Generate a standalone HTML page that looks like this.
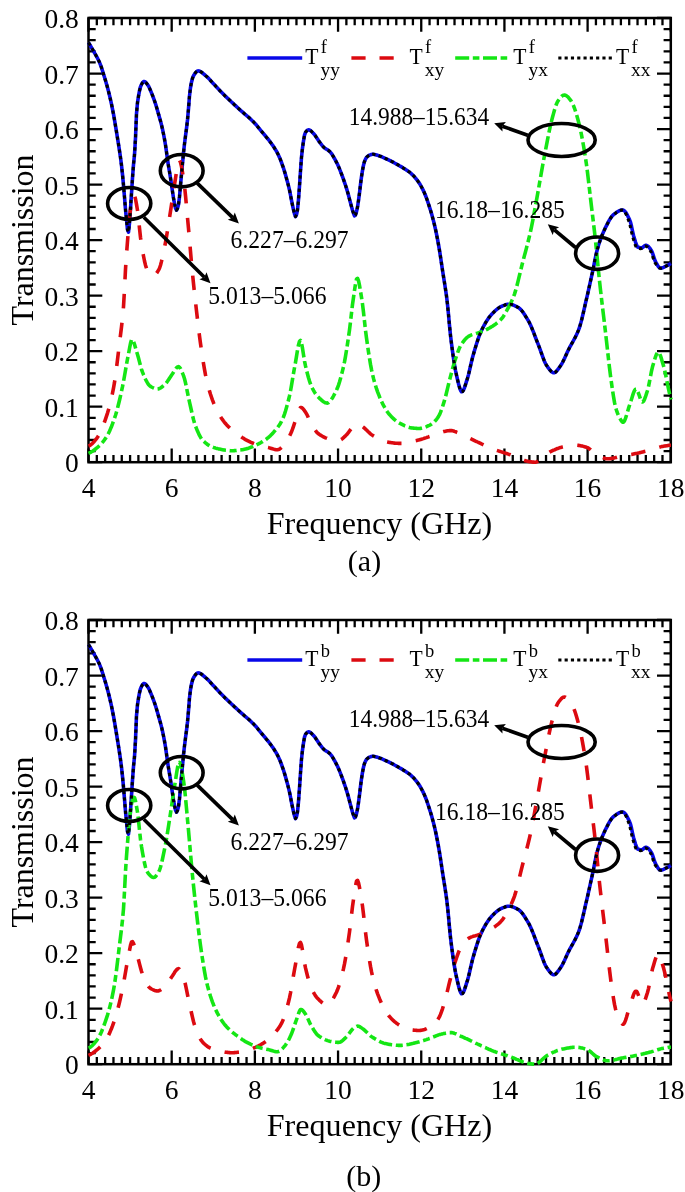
<!DOCTYPE html>
<html><head><meta charset="utf-8"><title>Transmission</title>
<style>
html,body{margin:0;padding:0;background:#fff;}
svg{display:block;will-change:transform;filter:blur(0.6px);}
text{font-family:"Liberation Serif",serif;fill:#000;}
</style></head><body>
<svg width="685" height="1192" viewBox="0 0 685 1192">
<rect width="685" height="1192" fill="#fff"/>
<g stroke="#000" stroke-width="2.3" fill="none"><path d="M88.50,462.20v-13.8 M88.50,18.00v13.8"/>
<path d="M96.82,462.20v-7.2 M96.82,18.00v7.2"/>
<path d="M105.14,462.20v-7.2 M105.14,18.00v7.2"/>
<path d="M113.46,462.20v-7.2 M113.46,18.00v7.2"/>
<path d="M121.77,462.20v-7.2 M121.77,18.00v7.2"/>
<path d="M130.09,462.20v-7.2 M130.09,18.00v7.2"/>
<path d="M138.41,462.20v-7.2 M138.41,18.00v7.2"/>
<path d="M146.73,462.20v-7.2 M146.73,18.00v7.2"/>
<path d="M155.05,462.20v-7.2 M155.05,18.00v7.2"/>
<path d="M163.37,462.20v-7.2 M163.37,18.00v7.2"/>
<path d="M171.69,462.20v-13.8 M171.69,18.00v13.8"/>
<path d="M180.00,462.20v-7.2 M180.00,18.00v7.2"/>
<path d="M188.32,462.20v-7.2 M188.32,18.00v7.2"/>
<path d="M196.64,462.20v-7.2 M196.64,18.00v7.2"/>
<path d="M204.96,462.20v-7.2 M204.96,18.00v7.2"/>
<path d="M213.28,462.20v-7.2 M213.28,18.00v7.2"/>
<path d="M221.60,462.20v-7.2 M221.60,18.00v7.2"/>
<path d="M229.92,462.20v-7.2 M229.92,18.00v7.2"/>
<path d="M238.23,462.20v-7.2 M238.23,18.00v7.2"/>
<path d="M246.55,462.20v-7.2 M246.55,18.00v7.2"/>
<path d="M254.87,462.20v-13.8 M254.87,18.00v13.8"/>
<path d="M263.19,462.20v-7.2 M263.19,18.00v7.2"/>
<path d="M271.51,462.20v-7.2 M271.51,18.00v7.2"/>
<path d="M279.83,462.20v-7.2 M279.83,18.00v7.2"/>
<path d="M288.15,462.20v-7.2 M288.15,18.00v7.2"/>
<path d="M296.46,462.20v-7.2 M296.46,18.00v7.2"/>
<path d="M304.78,462.20v-7.2 M304.78,18.00v7.2"/>
<path d="M313.10,462.20v-7.2 M313.10,18.00v7.2"/>
<path d="M321.42,462.20v-7.2 M321.42,18.00v7.2"/>
<path d="M329.74,462.20v-7.2 M329.74,18.00v7.2"/>
<path d="M338.06,462.20v-13.8 M338.06,18.00v13.8"/>
<path d="M346.38,462.20v-7.2 M346.38,18.00v7.2"/>
<path d="M354.69,462.20v-7.2 M354.69,18.00v7.2"/>
<path d="M363.01,462.20v-7.2 M363.01,18.00v7.2"/>
<path d="M371.33,462.20v-7.2 M371.33,18.00v7.2"/>
<path d="M379.65,462.20v-7.2 M379.65,18.00v7.2"/>
<path d="M387.97,462.20v-7.2 M387.97,18.00v7.2"/>
<path d="M396.29,462.20v-7.2 M396.29,18.00v7.2"/>
<path d="M404.61,462.20v-7.2 M404.61,18.00v7.2"/>
<path d="M412.92,462.20v-7.2 M412.92,18.00v7.2"/>
<path d="M421.24,462.20v-13.8 M421.24,18.00v13.8"/>
<path d="M429.56,462.20v-7.2 M429.56,18.00v7.2"/>
<path d="M437.88,462.20v-7.2 M437.88,18.00v7.2"/>
<path d="M446.20,462.20v-7.2 M446.20,18.00v7.2"/>
<path d="M454.52,462.20v-7.2 M454.52,18.00v7.2"/>
<path d="M462.84,462.20v-7.2 M462.84,18.00v7.2"/>
<path d="M471.15,462.20v-7.2 M471.15,18.00v7.2"/>
<path d="M479.47,462.20v-7.2 M479.47,18.00v7.2"/>
<path d="M487.79,462.20v-7.2 M487.79,18.00v7.2"/>
<path d="M496.11,462.20v-7.2 M496.11,18.00v7.2"/>
<path d="M504.43,462.20v-13.8 M504.43,18.00v13.8"/>
<path d="M512.75,462.20v-7.2 M512.75,18.00v7.2"/>
<path d="M521.07,462.20v-7.2 M521.07,18.00v7.2"/>
<path d="M529.38,462.20v-7.2 M529.38,18.00v7.2"/>
<path d="M537.70,462.20v-7.2 M537.70,18.00v7.2"/>
<path d="M546.02,462.20v-7.2 M546.02,18.00v7.2"/>
<path d="M554.34,462.20v-7.2 M554.34,18.00v7.2"/>
<path d="M562.66,462.20v-7.2 M562.66,18.00v7.2"/>
<path d="M570.98,462.20v-7.2 M570.98,18.00v7.2"/>
<path d="M579.30,462.20v-7.2 M579.30,18.00v7.2"/>
<path d="M587.61,462.20v-13.8 M587.61,18.00v13.8"/>
<path d="M595.93,462.20v-7.2 M595.93,18.00v7.2"/>
<path d="M604.25,462.20v-7.2 M604.25,18.00v7.2"/>
<path d="M612.57,462.20v-7.2 M612.57,18.00v7.2"/>
<path d="M620.89,462.20v-7.2 M620.89,18.00v7.2"/>
<path d="M629.21,462.20v-7.2 M629.21,18.00v7.2"/>
<path d="M637.53,462.20v-7.2 M637.53,18.00v7.2"/>
<path d="M645.84,462.20v-7.2 M645.84,18.00v7.2"/>
<path d="M654.16,462.20v-7.2 M654.16,18.00v7.2"/>
<path d="M662.48,462.20v-7.2 M662.48,18.00v7.2"/>
<path d="M670.80,462.20v-13.8 M670.80,18.00v13.8"/>
<path d="M88.50,462.20h13.8 M670.80,462.20h-13.8"/>
<path d="M88.50,451.09h7.2 M670.80,451.09h-7.2"/>
<path d="M88.50,439.99h7.2 M670.80,439.99h-7.2"/>
<path d="M88.50,428.88h7.2 M670.80,428.88h-7.2"/>
<path d="M88.50,417.78h7.2 M670.80,417.78h-7.2"/>
<path d="M88.50,406.68h13.8 M670.80,406.68h-13.8"/>
<path d="M88.50,395.57h7.2 M670.80,395.57h-7.2"/>
<path d="M88.50,384.46h7.2 M670.80,384.46h-7.2"/>
<path d="M88.50,373.36h7.2 M670.80,373.36h-7.2"/>
<path d="M88.50,362.25h7.2 M670.80,362.25h-7.2"/>
<path d="M88.50,351.15h13.8 M670.80,351.15h-13.8"/>
<path d="M88.50,340.04h7.2 M670.80,340.04h-7.2"/>
<path d="M88.50,328.94h7.2 M670.80,328.94h-7.2"/>
<path d="M88.50,317.83h7.2 M670.80,317.83h-7.2"/>
<path d="M88.50,306.73h7.2 M670.80,306.73h-7.2"/>
<path d="M88.50,295.62h13.8 M670.80,295.62h-13.8"/>
<path d="M88.50,284.52h7.2 M670.80,284.52h-7.2"/>
<path d="M88.50,273.41h7.2 M670.80,273.41h-7.2"/>
<path d="M88.50,262.31h7.2 M670.80,262.31h-7.2"/>
<path d="M88.50,251.21h7.2 M670.80,251.21h-7.2"/>
<path d="M88.50,240.10h13.8 M670.80,240.10h-13.8"/>
<path d="M88.50,229.00h7.2 M670.80,229.00h-7.2"/>
<path d="M88.50,217.89h7.2 M670.80,217.89h-7.2"/>
<path d="M88.50,206.78h7.2 M670.80,206.78h-7.2"/>
<path d="M88.50,195.68h7.2 M670.80,195.68h-7.2"/>
<path d="M88.50,184.57h13.8 M670.80,184.57h-13.8"/>
<path d="M88.50,173.47h7.2 M670.80,173.47h-7.2"/>
<path d="M88.50,162.36h7.2 M670.80,162.36h-7.2"/>
<path d="M88.50,151.26h7.2 M670.80,151.26h-7.2"/>
<path d="M88.50,140.16h7.2 M670.80,140.16h-7.2"/>
<path d="M88.50,129.05h13.8 M670.80,129.05h-13.8"/>
<path d="M88.50,117.94h7.2 M670.80,117.94h-7.2"/>
<path d="M88.50,106.84h7.2 M670.80,106.84h-7.2"/>
<path d="M88.50,95.73h7.2 M670.80,95.73h-7.2"/>
<path d="M88.50,84.63h7.2 M670.80,84.63h-7.2"/>
<path d="M88.50,73.53h13.8 M670.80,73.53h-13.8"/>
<path d="M88.50,62.42h7.2 M670.80,62.42h-7.2"/>
<path d="M88.50,51.32h7.2 M670.80,51.32h-7.2"/>
<path d="M88.50,40.21h7.2 M670.80,40.21h-7.2"/>
<path d="M88.50,29.11h7.2 M670.80,29.11h-7.2"/>
<path d="M88.50,18.00h13.8 M670.80,18.00h-13.8"/></g>
<rect x="88.5" y="18.0" width="582.3" height="444.2" fill="none" stroke="#000" stroke-width="2.5"/>
<g fill="none" stroke-linejoin="round">
<path d="M88.5,42.6 L89.5,44.2 L90.5,45.9 L91.5,47.6 L92.5,49.3 L93.5,51.1 L94.5,52.9 L95.5,54.6 L96.5,56.4 L97.5,58.2 L98.5,60.2 L99.5,62.3 L100.5,64.8 L101.5,67.6 L102.5,70.8 L103.5,74.0 L104.5,77.2 L105.5,80.5 L106.5,83.9 L107.5,87.5 L108.5,91.4 L109.5,95.4 L110.5,99.7 L111.5,104.2 L112.5,109.1 L113.5,114.2 L114.5,119.9 L115.5,125.9 L116.5,131.9 L117.5,138.1 L118.5,144.3 L119.5,150.7 L120.5,157.6 L121.5,165.3 L122.5,174.5 L123.5,185.2 L124.5,197.1 L125.5,209.5 L126.5,219.3 L127.5,229.6 L128.5,232.1 L129.5,222.9 L130.5,208.6 L131.5,193.6 L132.5,177.8 L133.5,164.6 L134.5,154.8 L135.5,137.9 L136.5,113.7 L137.5,102.6 L138.5,96.2 L139.5,90.8 L140.5,86.8 L141.5,84.5 L142.5,82.7 L143.5,81.6 L144.5,81.5 L145.5,82.1 L146.5,83.2 L147.5,84.6 L148.5,86.0 L149.5,88.1 L150.5,90.5 L151.5,92.9 L152.5,95.4 L153.5,98.0 L154.5,100.8 L155.5,103.8 L156.5,107.1 L157.5,110.5 L158.5,114.0 L159.5,117.5 L160.5,121.1 L161.5,124.9 L162.5,129.2 L163.5,134.0 L164.5,139.2 L165.5,145.0 L166.5,152.1 L167.5,159.6 L168.5,166.0 L169.5,171.8 L170.5,178.0 L171.5,184.8 L172.5,191.4 L173.5,198.1 L174.5,203.5 L175.5,208.2 L176.5,210.2 L177.5,208.4 L178.5,204.5 L179.5,196.7 L180.5,185.4 L181.5,174.2 L182.5,163.5 L183.5,152.9 L184.5,143.9 L185.5,136.1 L186.5,128.5 L187.5,120.0 L188.5,108.7 L189.5,95.9 L190.5,87.6 L191.5,82.2 L192.5,78.2 L193.5,75.8 L194.5,74.2 L195.5,72.7 L196.5,71.7 L197.5,71.0 L198.5,70.9 L199.5,71.1 L200.5,71.6 L201.5,72.2 L202.5,73.0 L203.5,73.8 L204.5,74.7 L205.5,75.6 L206.5,76.4 L207.5,77.3 L208.5,78.3 L209.5,79.4 L210.5,80.5 L211.5,81.6 L212.5,82.7 L213.5,83.8 L214.5,84.8 L215.5,85.9 L216.5,87.0 L217.5,88.0 L218.5,89.1 L219.5,90.2 L220.5,91.3 L221.5,92.3 L222.5,93.3 L223.5,94.3 L224.5,95.3 L225.5,96.3 L226.5,97.2 L227.5,98.2 L228.5,99.1 L229.5,100.1 L230.5,101.0 L231.5,102.0 L232.5,102.9 L233.5,103.8 L234.5,104.8 L235.5,105.7 L236.5,106.6 L237.5,107.5 L238.5,108.5 L239.5,109.4 L240.5,110.3 L241.5,111.2 L242.5,112.0 L243.5,112.9 L244.5,113.8 L245.5,114.6 L246.5,115.5 L247.5,116.4 L248.5,117.2 L249.5,118.1 L250.5,119.1 L251.5,120.0 L252.5,121.0 L253.5,121.9 L254.5,123.0 L255.5,124.0 L256.5,125.2 L257.5,126.4 L258.5,127.7 L259.5,128.9 L260.5,130.1 L261.5,131.3 L262.5,132.5 L263.5,133.7 L264.5,134.8 L265.5,136.0 L266.5,137.3 L267.5,138.5 L268.5,139.7 L269.5,141.0 L270.5,142.3 L271.5,143.7 L272.5,145.1 L273.5,146.6 L274.5,148.1 L275.5,149.7 L276.5,151.4 L277.5,153.2 L278.5,155.2 L279.5,157.4 L280.5,159.8 L281.5,162.5 L282.5,165.3 L283.5,168.2 L284.5,171.4 L285.5,174.8 L286.5,178.4 L287.5,182.0 L288.5,185.9 L289.5,190.1 L290.5,195.0 L291.5,200.3 L292.5,205.2 L293.5,209.9 L294.5,213.8 L295.5,216.6 L296.5,214.7 L297.5,209.9 L298.5,199.6 L299.5,185.9 L300.5,171.0 L301.5,157.2 L302.5,147.9 L303.5,141.0 L304.5,135.2 L305.5,132.3 L306.5,131.1 L307.5,130.2 L308.5,129.8 L309.5,130.0 L310.5,130.6 L311.5,131.4 L312.5,132.5 L313.5,133.5 L314.5,134.7 L315.5,136.0 L316.5,137.6 L317.5,139.1 L318.5,140.6 L319.5,142.0 L320.5,143.3 L321.5,144.7 L322.5,145.9 L323.5,147.0 L324.5,147.9 L325.5,148.6 L326.5,149.2 L327.5,149.8 L328.5,150.5 L329.5,151.3 L330.5,152.4 L331.5,153.6 L332.5,155.1 L333.5,156.8 L334.5,158.5 L335.5,160.4 L336.5,162.3 L337.5,164.3 L338.5,166.5 L339.5,168.9 L340.5,171.4 L341.5,174.0 L342.5,176.7 L343.5,179.4 L344.5,182.3 L345.5,185.3 L346.5,188.4 L347.5,191.7 L348.5,195.3 L349.5,199.1 L350.5,202.9 L351.5,206.6 L352.5,210.3 L353.5,213.3 L354.5,215.8 L355.5,215.1 L356.5,211.7 L357.5,207.2 L358.5,200.5 L359.5,193.0 L360.5,184.5 L361.5,176.8 L362.5,170.4 L363.5,165.2 L364.5,161.4 L365.5,159.2 L366.5,157.4 L367.5,156.4 L368.5,155.7 L369.5,155.2 L370.5,154.8 L371.5,154.5 L372.5,154.3 L373.5,154.3 L374.5,154.5 L375.5,154.7 L376.5,155.0 L377.5,155.3 L378.5,155.6 L379.5,156.0 L380.5,156.3 L381.5,156.7 L382.5,157.2 L383.5,157.6 L384.5,158.1 L385.5,158.5 L386.5,159.0 L387.5,159.4 L388.5,159.9 L389.5,160.4 L390.5,160.9 L391.5,161.4 L392.5,161.9 L393.5,162.4 L394.5,163.0 L395.5,163.5 L396.5,164.1 L397.5,164.6 L398.5,165.2 L399.5,165.8 L400.5,166.3 L401.5,166.9 L402.5,167.5 L403.5,168.2 L404.5,168.8 L405.5,169.4 L406.5,170.1 L407.5,170.7 L408.5,171.4 L409.5,172.1 L410.5,173.0 L411.5,173.9 L412.5,174.8 L413.5,175.8 L414.5,176.9 L415.5,178.1 L416.5,179.4 L417.5,180.7 L418.5,182.0 L419.5,183.5 L420.5,185.2 L421.5,187.0 L422.5,188.9 L423.5,190.9 L424.5,193.1 L425.5,195.5 L426.5,198.1 L427.5,201.0 L428.5,204.0 L429.5,207.1 L430.5,210.3 L431.5,213.6 L432.5,217.2 L433.5,220.9 L434.5,225.0 L435.5,229.3 L436.5,234.1 L437.5,239.2 L438.5,244.6 L439.5,250.4 L440.5,256.8 L441.5,263.4 L442.5,270.2 L443.5,276.6 L444.5,282.8 L445.5,289.2 L446.5,296.1 L447.5,304.4 L448.5,314.7 L449.5,325.7 L450.5,335.5 L451.5,343.6 L452.5,351.2 L453.5,358.3 L454.5,364.8 L455.5,370.5 L456.5,375.2 L457.5,379.5 L458.5,383.7 L459.5,387.4 L460.5,390.2 L461.5,391.8 L462.5,391.6 L463.5,390.1 L464.5,387.6 L465.5,384.6 L466.5,381.4 L467.5,378.3 L468.5,374.6 L469.5,370.5 L470.5,366.0 L471.5,361.7 L472.5,357.6 L473.5,354.0 L474.5,350.6 L475.5,347.2 L476.5,344.0 L477.5,340.9 L478.5,337.9 L479.5,335.2 L480.5,332.7 L481.5,330.5 L482.5,328.4 L483.5,326.5 L484.5,324.6 L485.5,322.9 L486.5,321.2 L487.5,319.7 L488.5,318.2 L489.5,316.9 L490.5,315.6 L491.5,314.5 L492.5,313.4 L493.5,312.4 L494.5,311.4 L495.5,310.5 L496.5,309.6 L497.5,308.8 L498.5,308.1 L499.5,307.4 L500.5,306.9 L501.5,306.4 L502.5,306.0 L503.5,305.5 L504.5,305.2 L505.5,304.8 L506.5,304.5 L507.5,304.3 L508.5,304.2 L509.5,304.2 L510.5,304.3 L511.5,304.5 L512.5,304.8 L513.5,305.2 L514.5,305.6 L515.5,306.1 L516.5,306.5 L517.5,307.1 L518.5,307.6 L519.5,308.4 L520.5,309.3 L521.5,310.4 L522.5,311.6 L523.5,313.0 L524.5,314.5 L525.5,316.1 L526.5,317.7 L527.5,319.4 L528.5,321.0 L529.5,322.9 L530.5,325.0 L531.5,327.3 L532.5,329.7 L533.5,332.2 L534.5,334.8 L535.5,337.5 L536.5,340.1 L537.5,342.7 L538.5,345.2 L539.5,347.8 L540.5,350.5 L541.5,353.4 L542.5,356.2 L543.5,358.9 L544.5,361.4 L545.5,363.5 L546.5,365.3 L547.5,366.7 L548.5,368.2 L549.5,369.5 L550.5,370.7 L551.5,371.7 L552.5,372.4 L553.5,372.8 L554.5,372.7 L555.5,372.2 L556.5,371.2 L557.5,370.0 L558.5,368.6 L559.5,367.2 L560.5,365.8 L561.5,364.3 L562.5,362.5 L563.5,360.5 L564.5,358.4 L565.5,356.2 L566.5,354.0 L567.5,351.8 L568.5,349.7 L569.5,347.7 L570.5,345.9 L571.5,344.1 L572.5,342.3 L573.5,340.5 L574.5,338.7 L575.5,336.8 L576.5,334.7 L577.5,332.5 L578.5,330.1 L579.5,327.4 L580.5,324.1 L581.5,320.4 L582.5,316.3 L583.5,312.0 L584.5,307.6 L585.5,303.2 L586.5,298.9 L587.5,294.6 L588.5,290.2 L589.5,285.7 L590.5,281.2 L591.5,276.6 L592.5,272.1 L593.5,267.3 L594.5,262.2 L595.5,257.3 L596.5,252.7 L597.5,248.7 L598.5,245.3 L599.5,242.2 L600.5,239.4 L601.5,236.7 L602.5,234.2 L603.5,231.9 L604.5,229.7 L605.5,227.6 L606.5,225.6 L607.5,223.6 L608.5,221.7 L609.5,219.9 L610.5,218.3 L611.5,216.8 L612.5,215.6 L613.5,214.7 L614.5,213.9 L615.5,213.2 L616.5,212.4 L617.5,211.8 L618.5,211.2 L619.5,210.7 L620.5,210.3 L621.5,210.1 L622.5,210.0 L623.5,210.2 L624.5,210.9 L625.5,212.1 L626.5,213.6 L627.5,215.4 L628.5,217.5 L629.5,219.6 L630.5,222.2 L631.5,226.3 L632.5,231.0 L633.5,235.4 L634.5,238.8 L635.5,242.1 L636.5,244.9 L637.5,246.8 L638.5,247.3 L639.5,247.6 L640.5,247.7 L641.5,247.8 L642.5,247.5 L643.5,246.8 L644.5,245.9 L645.5,245.4 L646.5,245.4 L647.5,245.8 L648.5,246.7 L649.5,247.9 L650.5,249.2 L651.5,250.7 L652.5,253.0 L653.5,256.1 L654.5,259.3 L655.5,261.7 L656.5,263.5 L657.5,265.2 L658.5,266.7 L659.5,267.8 L660.5,268.2 L661.5,268.1 L662.5,267.8 L663.5,267.4 L664.5,266.9 L665.5,266.4 L666.5,265.9 L667.5,265.4 L668.5,264.9 L669.5,264.3 L670.5,263.6 L671.0,263.3" stroke="#0808e8" stroke-width="3.6"/>
<path d="M88.5,446.0 L89.5,445.6 L90.5,445.0 L91.5,444.2 L92.5,443.3 L93.5,442.3 L94.5,441.1 L95.5,439.9 L96.5,438.6 L97.5,437.2 L98.5,435.7 L99.5,433.9 L100.5,431.9 L101.5,429.7 L102.5,427.3 L103.5,424.7 L104.5,422.0 L105.5,419.1 L106.5,416.2 L107.5,413.1 L108.5,409.7 L109.5,406.1 L110.5,402.1 L111.5,397.8 L112.5,393.2 L113.5,388.1 L114.5,382.4 L115.5,375.5 L116.5,367.9 L117.5,359.8 L118.5,351.4 L119.5,343.0 L120.5,335.0 L121.5,327.0 L122.5,318.0 L123.5,306.8 L124.5,289.5 L125.5,269.3 L126.5,254.4 L127.5,241.3 L128.5,228.8 L129.5,217.9 L130.5,208.9 L131.5,201.9 L132.5,198.0 L133.5,195.4 L134.5,195.5 L135.5,199.0 L136.5,204.4 L137.5,210.2 L138.5,218.4 L139.5,228.2 L140.5,237.5 L141.5,244.6 L142.5,250.5 L143.5,256.0 L144.5,261.0 L145.5,265.2 L146.5,268.3 L147.5,270.2 L148.5,271.6 L149.5,272.8 L150.5,273.9 L151.5,274.7 L152.5,275.3 L153.5,275.5 L154.5,275.3 L155.5,274.5 L156.5,273.3 L157.5,271.9 L158.5,270.2 L159.5,268.2 L160.5,265.2 L161.5,261.4 L162.5,257.0 L163.5,252.2 L164.5,247.4 L165.5,242.3 L166.5,236.7 L167.5,230.6 L168.5,224.2 L169.5,217.7 L170.5,211.3 L171.5,204.7 L172.5,197.7 L173.5,190.9 L174.5,184.5 L175.5,178.4 L176.5,171.8 L177.5,165.7 L178.5,161.4 L179.5,160.3 L180.5,162.3 L181.5,166.7 L182.5,172.4 L183.5,178.6 L184.5,185.9 L185.5,195.5 L186.5,206.4 L187.5,217.6 L188.5,228.4 L189.5,239.8 L190.5,251.5 L191.5,263.0 L192.5,273.6 L193.5,283.5 L194.5,293.0 L195.5,302.1 L196.5,310.9 L197.5,319.5 L198.5,327.9 L199.5,336.0 L200.5,343.6 L201.5,350.5 L202.5,357.1 L203.5,363.5 L204.5,369.4 L205.5,374.9 L206.5,379.7 L207.5,383.8 L208.5,387.5 L209.5,391.0 L210.5,394.3 L211.5,397.3 L212.5,400.1 L213.5,402.7 L214.5,405.1 L215.5,407.4 L216.5,409.4 L217.5,411.4 L218.5,413.2 L219.5,415.0 L220.5,416.6 L221.5,418.2 L222.5,419.6 L223.5,421.0 L224.5,422.3 L225.5,423.5 L226.5,424.7 L227.5,425.7 L228.5,426.7 L229.5,427.7 L230.5,428.6 L231.5,429.5 L232.5,430.3 L233.5,431.1 L234.5,431.9 L235.5,432.7 L236.5,433.4 L237.5,434.2 L238.5,434.9 L239.5,435.6 L240.5,436.3 L241.5,437.0 L242.5,437.7 L243.5,438.3 L244.5,439.0 L245.5,439.6 L246.5,440.1 L247.5,440.7 L248.5,441.2 L249.5,441.7 L250.5,442.2 L251.5,442.6 L252.5,443.0 L253.5,443.4 L254.5,443.8 L255.5,444.2 L256.5,444.6 L257.5,444.9 L258.5,445.3 L259.5,445.6 L260.5,445.9 L261.5,446.1 L262.5,446.4 L263.5,446.6 L264.5,446.8 L265.5,447.0 L266.5,447.2 L267.5,447.4 L268.5,447.6 L269.5,447.9 L270.5,448.2 L271.5,448.5 L272.5,448.8 L273.5,449.1 L274.5,449.4 L275.5,449.6 L276.5,449.7 L277.5,449.8 L278.5,449.6 L279.5,449.2 L280.5,448.4 L281.5,447.5 L282.5,446.5 L283.5,445.4 L284.5,444.2 L285.5,443.1 L286.5,441.6 L287.5,440.0 L288.5,438.2 L289.5,436.2 L290.5,434.1 L291.5,431.8 L292.5,429.2 L293.5,426.3 L294.5,423.3 L295.5,420.4 L296.5,417.7 L297.5,414.8 L298.5,411.7 L299.5,409.1 L300.5,407.6 L301.5,407.5 L302.5,408.2 L303.5,409.4 L304.5,410.7 L305.5,412.1 L306.5,413.8 L307.5,415.8 L308.5,418.1 L309.5,420.3 L310.5,422.4 L311.5,424.2 L312.5,425.8 L313.5,427.5 L314.5,429.1 L315.5,430.5 L316.5,431.9 L317.5,432.9 L318.5,433.8 L319.5,434.5 L320.5,435.1 L321.5,435.7 L322.5,436.3 L323.5,436.8 L324.5,437.3 L325.5,437.8 L326.5,438.2 L327.5,438.6 L328.5,438.9 L329.5,439.2 L330.5,439.4 L331.5,439.6 L332.5,439.8 L333.5,439.9 L334.5,440.1 L335.5,440.2 L336.5,440.3 L337.5,440.4 L338.5,440.4 L339.5,440.3 L340.5,440.0 L341.5,439.4 L342.5,438.6 L343.5,437.7 L344.5,436.7 L345.5,435.8 L346.5,434.8 L347.5,433.7 L348.5,432.4 L349.5,431.0 L350.5,429.6 L351.5,428.3 L352.5,427.2 L353.5,426.3 L354.5,425.6 L355.5,424.9 L356.5,424.4 L357.5,424.1 L358.5,424.2 L359.5,424.6 L360.5,425.2 L361.5,425.9 L362.5,426.6 L363.5,427.3 L364.5,428.2 L365.5,429.1 L366.5,430.0 L367.5,431.0 L368.5,432.0 L369.5,432.9 L370.5,433.8 L371.5,434.6 L372.5,435.3 L373.5,435.9 L374.5,436.5 L375.5,437.1 L376.5,437.7 L377.5,438.3 L378.5,438.9 L379.5,439.4 L380.5,439.9 L381.5,440.3 L382.5,440.7 L383.5,441.1 L384.5,441.4 L385.5,441.6 L386.5,441.8 L387.5,442.0 L388.5,442.2 L389.5,442.4 L390.5,442.5 L391.5,442.7 L392.5,442.8 L393.5,443.0 L394.5,443.1 L395.5,443.2 L396.5,443.3 L397.5,443.3 L398.5,443.4 L399.5,443.4 L400.5,443.4 L401.5,443.4 L402.5,443.3 L403.5,443.2 L404.5,443.1 L405.5,442.9 L406.5,442.8 L407.5,442.6 L408.5,442.4 L409.5,442.2 L410.5,441.9 L411.5,441.7 L412.5,441.5 L413.5,441.3 L414.5,441.0 L415.5,440.8 L416.5,440.6 L417.5,440.3 L418.5,440.1 L419.5,439.8 L420.5,439.5 L421.5,439.2 L422.5,438.9 L423.5,438.6 L424.5,438.2 L425.5,437.9 L426.5,437.6 L427.5,437.2 L428.5,436.9 L429.5,436.5 L430.5,436.2 L431.5,435.8 L432.5,435.3 L433.5,434.9 L434.5,434.5 L435.5,434.1 L436.5,433.7 L437.5,433.3 L438.5,432.9 L439.5,432.6 L440.5,432.4 L441.5,432.1 L442.5,431.9 L443.5,431.6 L444.5,431.4 L445.5,431.2 L446.5,431.0 L447.5,430.8 L448.5,430.7 L449.5,430.6 L450.5,430.6 L451.5,430.6 L452.5,430.8 L453.5,431.0 L454.5,431.4 L455.5,431.7 L456.5,432.2 L457.5,432.6 L458.5,433.1 L459.5,433.6 L460.5,434.1 L461.5,434.5 L462.5,434.9 L463.5,435.3 L464.5,435.8 L465.5,436.3 L466.5,436.7 L467.5,437.2 L468.5,437.7 L469.5,438.2 L470.5,438.7 L471.5,439.1 L472.5,439.6 L473.5,440.1 L474.5,440.6 L475.5,441.1 L476.5,441.5 L477.5,442.0 L478.5,442.5 L479.5,442.9 L480.5,443.4 L481.5,443.9 L482.5,444.3 L483.5,444.8 L484.5,445.3 L485.5,445.7 L486.5,446.2 L487.5,446.6 L488.5,447.1 L489.5,447.5 L490.5,447.9 L491.5,448.4 L492.5,448.8 L493.5,449.2 L494.5,449.5 L495.5,449.9 L496.5,450.3 L497.5,450.6 L498.5,450.9 L499.5,451.3 L500.5,451.6 L501.5,451.9 L502.5,452.2 L503.5,452.6 L504.5,452.9 L505.5,453.2 L506.5,453.5 L507.5,453.8 L508.5,454.2 L509.5,454.5 L510.5,454.8 L511.5,455.2 L512.5,455.6 L513.5,456.0 L514.5,456.4 L515.5,456.8 L516.5,457.3 L517.5,457.7 L518.5,458.2 L519.5,458.6 L520.5,459.0 L521.5,459.4 L522.5,459.8 L523.5,460.2 L524.5,460.5 L525.5,460.8 L526.5,461.1 L527.5,461.3 L528.5,461.5 L529.5,461.6 L530.5,461.8 L531.5,461.9 L532.5,462.1 L533.5,462.1 L534.5,462.2 L535.5,462.2 L536.5,461.9 L537.5,461.5 L538.5,460.9 L539.5,460.1 L540.5,459.2 L541.5,458.3 L542.5,457.3 L543.5,456.4 L544.5,455.5 L545.5,454.6 L546.5,453.9 L547.5,453.3 L548.5,452.8 L549.5,452.2 L550.5,451.7 L551.5,451.2 L552.5,450.7 L553.5,450.2 L554.5,449.8 L555.5,449.3 L556.5,448.9 L557.5,448.5 L558.5,448.2 L559.5,447.8 L560.5,447.6 L561.5,447.3 L562.5,447.1 L563.5,446.9 L564.5,446.7 L565.5,446.5 L566.5,446.3 L567.5,446.1 L568.5,445.9 L569.5,445.7 L570.5,445.6 L571.5,445.5 L572.5,445.4 L573.5,445.3 L574.5,445.2 L575.5,445.2 L576.5,445.2 L577.5,445.3 L578.5,445.4 L579.5,445.5 L580.5,445.7 L581.5,445.9 L582.5,446.1 L583.5,446.4 L584.5,446.7 L585.5,447.0 L586.5,447.3 L587.5,447.7 L588.5,448.2 L589.5,448.9 L590.5,449.7 L591.5,450.6 L592.5,451.5 L593.5,452.4 L594.5,453.3 L595.5,454.0 L596.5,454.7 L597.5,455.2 L598.5,455.7 L599.5,456.2 L600.5,456.7 L601.5,457.1 L602.5,457.5 L603.5,457.9 L604.5,458.2 L605.5,458.5 L606.5,458.7 L607.5,458.8 L608.5,458.8 L609.5,458.7 L610.5,458.6 L611.5,458.5 L612.5,458.3 L613.5,458.1 L614.5,457.9 L615.5,457.6 L616.5,457.4 L617.5,457.1 L618.5,456.8 L619.5,456.6 L620.5,456.3 L621.5,456.1 L622.5,455.9 L623.5,455.7 L624.5,455.5 L625.5,455.4 L626.5,455.2 L627.5,455.0 L628.5,454.9 L629.5,454.7 L630.5,454.5 L631.5,454.4 L632.5,454.2 L633.5,454.0 L634.5,453.8 L635.5,453.6 L636.5,453.4 L637.5,453.2 L638.5,453.0 L639.5,452.8 L640.5,452.5 L641.5,452.3 L642.5,452.1 L643.5,451.8 L644.5,451.5 L645.5,451.3 L646.5,451.0 L647.5,450.7 L648.5,450.5 L649.5,450.2 L650.5,449.9 L651.5,449.7 L652.5,449.4 L653.5,449.1 L654.5,448.7 L655.5,448.4 L656.5,448.1 L657.5,447.8 L658.5,447.5 L659.5,447.2 L660.5,446.9 L661.5,446.6 L662.5,446.4 L663.5,446.2 L664.5,446.0 L665.5,445.9 L666.5,445.7 L667.5,445.6 L668.5,445.4 L669.5,445.3 L670.5,445.2 L671.0,445.2" stroke="#dc0a10" stroke-width="3.6" stroke-dasharray="14.5 14.5"/>
<path d="M88.5,453.3 L89.5,452.9 L90.5,452.4 L91.5,451.8 L92.5,451.2 L93.5,450.5 L94.5,449.8 L95.5,449.0 L96.5,448.2 L97.5,447.4 L98.5,446.5 L99.5,445.6 L100.5,444.6 L101.5,443.5 L102.5,442.4 L103.5,441.2 L104.5,439.8 L105.5,438.4 L106.5,436.9 L107.5,435.2 L108.5,433.3 L109.5,431.2 L110.5,428.9 L111.5,426.5 L112.5,423.9 L113.5,421.1 L114.5,418.3 L115.5,415.3 L116.5,411.9 L117.5,408.3 L118.5,404.3 L119.5,400.2 L120.5,395.8 L121.5,391.3 L122.5,386.7 L123.5,381.5 L124.5,376.0 L125.5,370.2 L126.5,364.4 L127.5,359.0 L128.5,354.0 L129.5,348.5 L130.5,343.3 L131.5,339.9 L132.5,339.6 L133.5,341.4 L134.5,344.3 L135.5,347.8 L136.5,351.3 L137.5,354.5 L138.5,358.1 L139.5,361.9 L140.5,365.7 L141.5,369.3 L142.5,372.2 L143.5,374.7 L144.5,377.0 L145.5,379.2 L146.5,381.2 L147.5,383.0 L148.5,384.5 L149.5,385.6 L150.5,386.4 L151.5,387.0 L152.5,387.5 L153.5,388.0 L154.5,388.4 L155.5,388.8 L156.5,388.9 L157.5,389.0 L158.5,388.9 L159.5,388.5 L160.5,388.0 L161.5,387.3 L162.5,386.5 L163.5,385.7 L164.5,384.9 L165.5,383.9 L166.5,382.7 L167.5,381.3 L168.5,379.8 L169.5,378.2 L170.5,376.7 L171.5,375.2 L172.5,373.8 L173.5,372.3 L174.5,370.6 L175.5,369.1 L176.5,367.8 L177.5,366.9 L178.5,366.6 L179.5,367.2 L180.5,368.6 L181.5,370.7 L182.5,373.1 L183.5,375.6 L184.5,378.7 L185.5,382.8 L186.5,387.6 L187.5,392.6 L188.5,397.6 L189.5,402.2 L190.5,406.5 L191.5,411.0 L192.5,415.4 L193.5,419.5 L194.5,423.1 L195.5,426.0 L196.5,428.6 L197.5,431.1 L198.5,433.3 L199.5,435.4 L200.5,437.2 L201.5,438.7 L202.5,440.0 L203.5,441.1 L204.5,442.0 L205.5,442.9 L206.5,443.7 L207.5,444.5 L208.5,445.1 L209.5,445.7 L210.5,446.2 L211.5,446.6 L212.5,447.0 L213.5,447.4 L214.5,447.7 L215.5,448.1 L216.5,448.4 L217.5,448.6 L218.5,448.9 L219.5,449.1 L220.5,449.3 L221.5,449.5 L222.5,449.7 L223.5,449.9 L224.5,450.0 L225.5,450.2 L226.5,450.3 L227.5,450.4 L228.5,450.5 L229.5,450.6 L230.5,450.7 L231.5,450.7 L232.5,450.7 L233.5,450.7 L234.5,450.6 L235.5,450.5 L236.5,450.5 L237.5,450.3 L238.5,450.2 L239.5,450.1 L240.5,450.0 L241.5,449.8 L242.5,449.7 L243.5,449.5 L244.5,449.3 L245.5,449.1 L246.5,448.8 L247.5,448.5 L248.5,448.2 L249.5,447.8 L250.5,447.4 L251.5,447.0 L252.5,446.6 L253.5,446.1 L254.5,445.7 L255.5,445.3 L256.5,444.8 L257.5,444.3 L258.5,443.9 L259.5,443.3 L260.5,442.8 L261.5,442.2 L262.5,441.7 L263.5,441.0 L264.5,440.4 L265.5,439.7 L266.5,439.0 L267.5,438.2 L268.5,437.4 L269.5,436.5 L270.5,435.6 L271.5,434.6 L272.5,433.5 L273.5,432.4 L274.5,431.2 L275.5,430.0 L276.5,428.8 L277.5,427.6 L278.5,426.2 L279.5,424.8 L280.5,423.2 L281.5,421.4 L282.5,419.3 L283.5,416.9 L284.5,414.1 L285.5,411.0 L286.5,407.6 L287.5,403.9 L288.5,400.0 L289.5,395.9 L290.5,391.0 L291.5,385.4 L292.5,379.4 L293.5,373.4 L294.5,367.7 L295.5,362.4 L296.5,356.4 L297.5,350.2 L298.5,344.9 L299.5,341.3 L300.5,340.4 L301.5,343.0 L302.5,348.2 L303.5,354.7 L304.5,361.1 L305.5,365.9 L306.5,370.0 L307.5,374.0 L308.5,377.8 L309.5,381.1 L310.5,384.0 L311.5,386.4 L312.5,388.5 L313.5,390.4 L314.5,392.1 L315.5,393.7 L316.5,395.1 L317.5,396.3 L318.5,397.3 L319.5,398.3 L320.5,399.2 L321.5,400.1 L322.5,401.0 L323.5,401.7 L324.5,402.3 L325.5,402.8 L326.5,403.0 L327.5,403.1 L328.5,402.7 L329.5,401.9 L330.5,400.8 L331.5,399.4 L332.5,397.8 L333.5,396.0 L334.5,394.1 L335.5,392.2 L336.5,390.2 L337.5,387.8 L338.5,385.1 L339.5,382.0 L340.5,378.5 L341.5,374.8 L342.5,370.9 L343.5,366.7 L344.5,361.9 L345.5,356.4 L346.5,350.3 L347.5,343.9 L348.5,337.1 L349.5,330.1 L350.5,321.8 L351.5,313.0 L352.5,304.5 L353.5,297.4 L354.5,290.4 L355.5,283.8 L356.5,279.2 L357.5,278.3 L358.5,280.7 L359.5,285.4 L360.5,291.3 L361.5,297.4 L362.5,304.1 L363.5,312.3 L364.5,321.3 L365.5,330.2 L366.5,338.1 L367.5,345.1 L368.5,351.9 L369.5,358.3 L370.5,364.4 L371.5,369.7 L372.5,374.3 L373.5,378.4 L374.5,382.1 L375.5,385.5 L376.5,388.7 L377.5,391.6 L378.5,394.2 L379.5,396.7 L380.5,399.0 L381.5,401.3 L382.5,403.4 L383.5,405.4 L384.5,407.2 L385.5,409.0 L386.5,410.6 L387.5,412.0 L388.5,413.3 L389.5,414.5 L390.5,415.6 L391.5,416.7 L392.5,417.7 L393.5,418.7 L394.5,419.6 L395.5,420.4 L396.5,421.2 L397.5,421.9 L398.5,422.6 L399.5,423.2 L400.5,423.7 L401.5,424.2 L402.5,424.7 L403.5,425.2 L404.5,425.7 L405.5,426.1 L406.5,426.5 L407.5,426.9 L408.5,427.2 L409.5,427.5 L410.5,427.7 L411.5,427.9 L412.5,428.0 L413.5,428.1 L414.5,428.2 L415.5,428.3 L416.5,428.4 L417.5,428.5 L418.5,428.5 L419.5,428.5 L420.5,428.4 L421.5,428.3 L422.5,428.1 L423.5,427.8 L424.5,427.5 L425.5,427.1 L426.5,426.7 L427.5,426.2 L428.5,425.7 L429.5,425.3 L430.5,424.7 L431.5,424.1 L432.5,423.4 L433.5,422.6 L434.5,421.6 L435.5,420.5 L436.5,419.3 L437.5,418.0 L438.5,416.5 L439.5,414.7 L440.5,412.4 L441.5,409.7 L442.5,406.8 L443.5,403.6 L444.5,400.4 L445.5,396.9 L446.5,392.8 L447.5,388.6 L448.5,384.3 L449.5,380.3 L450.5,376.5 L451.5,372.7 L452.5,368.9 L453.5,365.4 L454.5,362.1 L455.5,359.0 L456.5,356.0 L457.5,353.1 L458.5,350.3 L459.5,347.9 L460.5,345.9 L461.5,344.3 L462.5,342.8 L463.5,341.4 L464.5,340.1 L465.5,338.9 L466.5,337.9 L467.5,337.1 L468.5,336.4 L469.5,335.8 L470.5,335.3 L471.5,334.9 L472.5,334.6 L473.5,334.2 L474.5,333.9 L475.5,333.7 L476.5,333.4 L477.5,333.1 L478.5,332.9 L479.5,332.5 L480.5,332.2 L481.5,331.8 L482.5,331.4 L483.5,331.0 L484.5,330.5 L485.5,330.1 L486.5,329.6 L487.5,329.1 L488.5,328.5 L489.5,328.0 L490.5,327.4 L491.5,326.8 L492.5,326.2 L493.5,325.5 L494.5,324.9 L495.5,324.2 L496.5,323.4 L497.5,322.6 L498.5,321.8 L499.5,320.9 L500.5,319.9 L501.5,318.8 L502.5,317.6 L503.5,316.2 L504.5,314.6 L505.5,312.8 L506.5,311.0 L507.5,309.1 L508.5,307.3 L509.5,305.4 L510.5,303.5 L511.5,301.4 L512.5,299.2 L513.5,296.8 L514.5,294.1 L515.5,290.9 L516.5,287.4 L517.5,283.5 L518.5,279.4 L519.5,275.3 L520.5,271.1 L521.5,267.0 L522.5,263.0 L523.5,259.2 L524.5,255.4 L525.5,251.7 L526.5,247.9 L527.5,244.0 L528.5,240.0 L529.5,235.8 L530.5,231.5 L531.5,226.8 L532.5,221.9 L533.5,216.6 L534.5,211.1 L535.5,205.6 L536.5,200.1 L537.5,194.6 L538.5,189.0 L539.5,183.3 L540.5,177.6 L541.5,171.9 L542.5,166.3 L543.5,160.8 L544.5,155.5 L545.5,150.3 L546.5,145.1 L547.5,139.9 L548.5,134.8 L549.5,129.9 L550.5,125.3 L551.5,121.1 L552.5,117.3 L553.5,113.6 L554.5,110.0 L555.5,106.8 L556.5,103.9 L557.5,101.7 L558.5,100.2 L559.5,98.8 L560.5,97.6 L561.5,96.5 L562.5,95.7 L563.5,95.2 L564.5,95.0 L565.5,95.2 L566.5,95.8 L567.5,96.6 L568.5,97.6 L569.5,98.8 L570.5,100.1 L571.5,101.5 L572.5,103.3 L573.5,105.6 L574.5,108.3 L575.5,111.3 L576.5,114.6 L577.5,118.1 L578.5,121.7 L579.5,125.6 L580.5,130.0 L581.5,134.9 L582.5,140.2 L583.5,145.8 L584.5,151.8 L585.5,158.0 L586.5,164.8 L587.5,172.5 L588.5,180.9 L589.5,189.6 L590.5,198.3 L591.5,206.8 L592.5,215.0 L593.5,223.3 L594.5,231.8 L595.5,240.8 L596.5,250.6 L597.5,260.9 L598.5,271.1 L599.5,280.9 L600.5,289.9 L601.5,298.6 L602.5,307.1 L603.5,315.4 L604.5,323.8 L605.5,332.3 L606.5,341.1 L607.5,350.1 L608.5,359.1 L609.5,367.8 L610.5,375.9 L611.5,383.1 L612.5,390.1 L613.5,396.6 L614.5,402.4 L615.5,406.9 L616.5,410.3 L617.5,413.2 L618.5,415.5 L619.5,417.5 L620.5,419.3 L621.5,421.0 L622.5,422.1 L623.5,422.2 L624.5,420.9 L625.5,418.4 L626.5,415.3 L627.5,411.8 L628.5,408.4 L629.5,405.4 L630.5,402.5 L631.5,399.3 L632.5,395.9 L633.5,392.9 L634.5,390.5 L635.5,389.2 L636.5,389.2 L637.5,390.8 L638.5,393.3 L639.5,396.2 L640.5,399.1 L641.5,401.2 L642.5,402.0 L643.5,401.3 L644.5,399.4 L645.5,396.7 L646.5,393.6 L647.5,390.5 L648.5,386.6 L649.5,381.6 L650.5,376.3 L651.5,371.2 L652.5,366.8 L653.5,363.4 L654.5,360.0 L655.5,356.8 L656.5,354.2 L657.5,352.6 L658.5,352.3 L659.5,353.5 L660.5,355.8 L661.5,358.9 L662.5,362.4 L663.5,365.8 L664.5,369.6 L665.5,374.1 L666.5,379.1 L667.5,384.2 L668.5,389.0 L669.5,393.4 L670.5,397.5 L671.0,399.5" stroke="#14e614" stroke-width="3.6" stroke-dasharray="13.5 3.7 7 3.7"/>
<path d="M88.5,42.6 L89.5,44.2 L90.5,45.9 L91.5,47.6 L92.5,49.3 L93.5,51.1 L94.5,52.9 L95.5,54.6 L96.5,56.4 L97.5,58.2 L98.5,60.2 L99.5,62.3 L100.5,64.8 L101.5,67.6 L102.5,70.8 L103.5,74.0 L104.5,77.2 L105.5,80.5 L106.5,83.9 L107.5,87.5 L108.5,91.4 L109.5,95.4 L110.5,99.7 L111.5,104.2 L112.5,109.1 L113.5,114.2 L114.5,119.9 L115.5,125.9 L116.5,131.9 L117.5,138.1 L118.5,144.3 L119.5,150.7 L120.5,157.6 L121.5,165.3 L122.5,174.5 L123.5,185.2 L124.5,197.1 L125.5,209.5 L126.5,219.3 L127.5,229.6 L128.5,232.1 L129.5,222.9 L130.5,208.6 L131.5,193.6 L132.5,177.8 L133.5,164.6 L134.5,154.8 L135.5,137.9 L136.5,113.7 L137.5,102.6 L138.5,96.2 L139.5,90.8 L140.5,86.8 L141.5,84.5 L142.5,82.7 L143.5,81.6 L144.5,81.5 L145.5,82.1 L146.5,83.2 L147.5,84.6 L148.5,86.0 L149.5,88.1 L150.5,90.5 L151.5,92.9 L152.5,95.4 L153.5,98.0 L154.5,100.8 L155.5,103.8 L156.5,107.1 L157.5,110.5 L158.5,114.0 L159.5,117.5 L160.5,121.1 L161.5,124.9 L162.5,129.2 L163.5,134.0 L164.5,139.2 L165.5,145.0 L166.5,152.1 L167.5,159.6 L168.5,166.0 L169.5,171.8 L170.5,178.0 L171.5,184.8 L172.5,191.4 L173.5,198.1 L174.5,203.5 L175.5,208.2 L176.5,210.2 L177.5,208.4 L178.5,204.5 L179.5,196.7 L180.5,185.4 L181.5,174.2 L182.5,163.5 L183.5,152.9 L184.5,143.9 L185.5,136.1 L186.5,128.5 L187.5,120.0 L188.5,108.7 L189.5,95.9 L190.5,87.6 L191.5,82.2 L192.5,78.2 L193.5,75.8 L194.5,74.2 L195.5,72.7 L196.5,71.7 L197.5,71.0 L198.5,70.9 L199.5,71.1 L200.5,71.6 L201.5,72.2 L202.5,73.0 L203.5,73.8 L204.5,74.7 L205.5,75.6 L206.5,76.4 L207.5,77.3 L208.5,78.3 L209.5,79.4 L210.5,80.5 L211.5,81.6 L212.5,82.7 L213.5,83.8 L214.5,84.8 L215.5,85.9 L216.5,87.0 L217.5,88.0 L218.5,89.1 L219.5,90.2 L220.5,91.3 L221.5,92.3 L222.5,93.3 L223.5,94.3 L224.5,95.3 L225.5,96.3 L226.5,97.2 L227.5,98.2 L228.5,99.1 L229.5,100.1 L230.5,101.0 L231.5,102.0 L232.5,102.9 L233.5,103.8 L234.5,104.8 L235.5,105.7 L236.5,106.6 L237.5,107.5 L238.5,108.5 L239.5,109.4 L240.5,110.3 L241.5,111.2 L242.5,112.0 L243.5,112.9 L244.5,113.8 L245.5,114.6 L246.5,115.5 L247.5,116.4 L248.5,117.2 L249.5,118.1 L250.5,119.1 L251.5,120.0 L252.5,121.0 L253.5,121.9 L254.5,123.0 L255.5,124.0 L256.5,125.2 L257.5,126.4 L258.5,127.7 L259.5,128.9 L260.5,130.1 L261.5,131.3 L262.5,132.5 L263.5,133.7 L264.5,134.8 L265.5,136.0 L266.5,137.3 L267.5,138.5 L268.5,139.7 L269.5,141.0 L270.5,142.3 L271.5,143.7 L272.5,145.1 L273.5,146.6 L274.5,148.1 L275.5,149.7 L276.5,151.4 L277.5,153.2 L278.5,155.2 L279.5,157.4 L280.5,159.8 L281.5,162.5 L282.5,165.3 L283.5,168.2 L284.5,171.4 L285.5,174.8 L286.5,178.4 L287.5,182.0 L288.5,185.9 L289.5,190.1 L290.5,195.0 L291.5,200.3 L292.5,205.2 L293.5,209.9 L294.5,213.8 L295.5,216.6 L296.5,214.7 L297.5,209.9 L298.5,199.6 L299.5,185.9 L300.5,171.0 L301.5,157.2 L302.5,147.9 L303.5,141.0 L304.5,135.2 L305.5,132.3 L306.5,131.1 L307.5,130.2 L308.5,129.8 L309.5,130.0 L310.5,130.6 L311.5,131.4 L312.5,132.5 L313.5,133.5 L314.5,134.7 L315.5,136.0 L316.5,137.6 L317.5,139.1 L318.5,140.6 L319.5,142.0 L320.5,143.3 L321.5,144.7 L322.5,145.9 L323.5,147.0 L324.5,147.9 L325.5,148.6 L326.5,149.2 L327.5,149.8 L328.5,150.5 L329.5,151.3 L330.5,152.4 L331.5,153.6 L332.5,155.1 L333.5,156.8 L334.5,158.5 L335.5,160.4 L336.5,162.3 L337.5,164.3 L338.5,166.5 L339.5,168.9 L340.5,171.4 L341.5,174.0 L342.5,176.7 L343.5,179.4 L344.5,182.3 L345.5,185.3 L346.5,188.4 L347.5,191.7 L348.5,195.3 L349.5,199.1 L350.5,202.9 L351.5,206.6 L352.5,210.3 L353.5,213.3 L354.5,215.8 L355.5,215.1 L356.5,211.7 L357.5,207.2 L358.5,200.5 L359.5,193.0 L360.5,184.5 L361.5,176.8 L362.5,170.4 L363.5,165.2 L364.5,161.4 L365.5,159.2 L366.5,157.4 L367.5,156.4 L368.5,155.7 L369.5,155.2 L370.5,154.8 L371.5,154.5 L372.5,154.3 L373.5,154.3 L374.5,154.5 L375.5,154.7 L376.5,155.0 L377.5,155.3 L378.5,155.6 L379.5,156.0 L380.5,156.3 L381.5,156.7 L382.5,157.2 L383.5,157.6 L384.5,158.1 L385.5,158.5 L386.5,159.0 L387.5,159.4 L388.5,159.9 L389.5,160.4 L390.5,160.9 L391.5,161.4 L392.5,161.9 L393.5,162.4 L394.5,163.0 L395.5,163.5 L396.5,164.1 L397.5,164.6 L398.5,165.2 L399.5,165.8 L400.5,166.3 L401.5,166.9 L402.5,167.5 L403.5,168.2 L404.5,168.8 L405.5,169.4 L406.5,170.1 L407.5,170.7 L408.5,171.4 L409.5,172.1 L410.5,173.0 L411.5,173.9 L412.5,174.8 L413.5,175.8 L414.5,176.9 L415.5,178.1 L416.5,179.4 L417.5,180.7 L418.5,182.0 L419.5,183.5 L420.5,185.2 L421.5,187.0 L422.5,188.9 L423.5,190.9 L424.5,193.1 L425.5,195.5 L426.5,198.1 L427.5,201.0 L428.5,204.0 L429.5,207.1 L430.5,210.3 L431.5,213.6 L432.5,217.2 L433.5,220.9 L434.5,225.0 L435.5,229.3 L436.5,234.1 L437.5,239.2 L438.5,244.6 L439.5,250.4 L440.5,256.8 L441.5,263.4 L442.5,270.2 L443.5,276.6 L444.5,282.8 L445.5,289.2 L446.5,296.1 L447.5,304.4 L448.5,314.7 L449.5,325.7 L450.5,335.5 L451.5,343.6 L452.5,351.2 L453.5,358.3 L454.5,364.8 L455.5,370.5 L456.5,375.2 L457.5,379.5 L458.5,383.7 L459.5,387.4 L460.5,390.2 L461.5,391.8 L462.5,391.6 L463.5,390.1 L464.5,387.6 L465.5,384.6 L466.5,381.4 L467.5,378.3 L468.5,374.6 L469.5,370.5 L470.5,366.0 L471.5,361.7 L472.5,357.6 L473.5,354.0 L474.5,350.6 L475.5,347.2 L476.5,344.0 L477.5,340.9 L478.5,337.9 L479.5,335.2 L480.5,332.7 L481.5,330.5 L482.5,328.4 L483.5,326.5 L484.5,324.6 L485.5,322.9 L486.5,321.2 L487.5,319.7 L488.5,318.2 L489.5,316.9 L490.5,315.6 L491.5,314.5 L492.5,313.4 L493.5,312.4 L494.5,311.4 L495.5,310.5 L496.5,309.6 L497.5,308.8 L498.5,308.1 L499.5,307.4 L500.5,306.9 L501.5,306.4 L502.5,306.0 L503.5,305.5 L504.5,305.2 L505.5,304.8 L506.5,304.5 L507.5,304.3 L508.5,304.2 L509.5,304.2 L510.5,304.3 L511.5,304.5 L512.5,304.8 L513.5,305.2 L514.5,305.6 L515.5,306.1 L516.5,306.5 L517.5,307.1 L518.5,307.6 L519.5,308.4 L520.5,309.3 L521.5,310.4 L522.5,311.6 L523.5,313.0 L524.5,314.5 L525.5,316.1 L526.5,317.7 L527.5,319.4 L528.5,321.0 L529.5,322.9 L530.5,325.0 L531.5,327.3 L532.5,329.7 L533.5,332.2 L534.5,334.8 L535.5,337.5 L536.5,340.1 L537.5,342.7 L538.5,345.2 L539.5,347.8 L540.5,350.5 L541.5,353.4 L542.5,356.2 L543.5,358.9 L544.5,361.4 L545.5,363.5 L546.5,365.3 L547.5,366.7 L548.5,368.2 L549.5,369.5 L550.5,370.7 L551.5,371.7 L552.5,372.4 L553.5,372.8 L554.5,372.7 L555.5,372.2 L556.5,371.2 L557.5,370.0 L558.5,368.6 L559.5,367.2 L560.5,365.8 L561.5,364.3 L562.5,362.5 L563.5,360.5 L564.5,358.4 L565.5,356.2 L566.5,354.0 L567.5,351.8 L568.5,349.7 L569.5,347.7 L570.5,345.9 L571.5,344.1 L572.5,342.3 L573.5,340.5 L574.5,338.7 L575.5,336.8 L576.5,334.7 L577.5,332.5 L578.5,330.1 L579.5,327.4 L580.5,324.1 L581.5,320.4 L582.5,316.3 L583.5,312.0 L584.5,307.6 L585.5,303.2 L586.5,298.9 L587.5,294.6 L588.5,290.2 L589.5,285.7 L590.5,281.2 L591.5,276.6 L592.5,272.1 L593.5,267.3 L594.5,262.2 L595.5,257.3 L596.5,252.7 L597.5,248.7 L598.5,245.3 L599.5,242.2 L600.5,239.4 L601.5,236.7 L602.5,234.2 L603.5,231.9 L604.5,229.7 L605.5,227.6 L606.5,225.6 L607.5,223.6 L608.5,221.7 L609.5,219.9 L610.5,218.3 L611.5,216.8 L612.5,215.6 L613.5,214.7 L614.5,213.9 L615.5,213.2 L616.5,212.4 L617.5,211.8 L618.5,211.2 L619.5,210.7 L620.5,210.3 L621.5,210.1 L622.5,210.0 L623.5,210.3 L624.5,211.4 L625.5,213.1 L626.5,215.2 L627.5,217.6 L628.5,220.1 L629.5,222.9 L630.5,227.1 L631.5,231.7 L632.5,236.1 L633.5,239.4 L634.5,242.6 L635.5,245.5 L636.5,247.4 L637.5,248.0 L638.5,248.3 L639.5,248.5 L640.5,248.6 L641.5,248.5 L642.5,247.9 L643.5,247.1 L644.5,246.4 L645.5,246.1 L646.5,246.4 L647.5,247.1 L648.5,248.2 L649.5,249.5 L650.5,250.9 L651.5,252.7 L652.5,255.7 L653.5,259.0 L654.5,261.8 L655.5,263.4 L656.5,264.8 L657.5,266.1 L658.5,267.2 L659.5,267.9 L660.5,268.2 L661.5,268.1 L662.5,267.8 L663.5,267.4 L664.5,266.9 L665.5,266.4 L666.5,265.9 L667.5,265.4 L668.5,264.9 L669.5,264.3 L670.5,263.6 L671.0,263.3" stroke="#000" stroke-width="3.1" stroke-dasharray="3.3 3.3"/>
</g>
<text x="78.8" y="472.4" text-anchor="end" font-size="27.5">0</text>
<text x="78.8" y="416.9" text-anchor="end" font-size="27.5">0.1</text>
<text x="78.8" y="361.3" text-anchor="end" font-size="27.5">0.2</text>
<text x="78.8" y="305.8" text-anchor="end" font-size="27.5">0.3</text>
<text x="78.8" y="250.3" text-anchor="end" font-size="27.5">0.4</text>
<text x="78.8" y="194.8" text-anchor="end" font-size="27.5">0.5</text>
<text x="78.8" y="139.2" text-anchor="end" font-size="27.5">0.6</text>
<text x="78.8" y="83.7" text-anchor="end" font-size="27.5">0.7</text>
<text x="78.8" y="28.2" text-anchor="end" font-size="27.5">0.8</text>
<text x="88.5" y="497.0" text-anchor="middle" font-size="27.5">4</text>
<text x="171.7" y="497.0" text-anchor="middle" font-size="27.5">6</text>
<text x="254.9" y="497.0" text-anchor="middle" font-size="27.5">8</text>
<text x="338.1" y="497.0" text-anchor="middle" font-size="27.5">10</text>
<text x="421.2" y="497.0" text-anchor="middle" font-size="27.5">12</text>
<text x="504.4" y="497.0" text-anchor="middle" font-size="27.5">14</text>
<text x="587.6" y="497.0" text-anchor="middle" font-size="27.5">16</text>
<text x="670.8" y="497.0" text-anchor="middle" font-size="27.5">18</text>
<text x="379.5" y="533.6" text-anchor="middle" font-size="31.5" textLength="225.5" lengthAdjust="spacingAndGlyphs">Frequency (GHz)</text>
<text transform="translate(32.7,240.0) rotate(-90)" text-anchor="middle" font-size="31.5" textLength="171" lengthAdjust="spacingAndGlyphs">Transmission</text>
<path d="M247.4,58H302.2" stroke="#0808e8" stroke-width="3.4" fill="none"/>
<path d="M351.4,58H394" stroke="#dc0a10" stroke-width="3.4" stroke-dasharray="14.2 13.9" fill="none"/>
<path d="M455.2,58H508.7" stroke="#14e614" stroke-width="3.4" stroke-dasharray="14 3.6 6.6 3.6" fill="none"/>
<path d="M558.3,58H612" stroke="#000" stroke-width="3.2" stroke-dasharray="3.15 3.15" fill="none"/>
<text x="305.3" y="64.4" font-size="24" textLength="13.2" lengthAdjust="spacingAndGlyphs">T</text>
<text x="320.8" y="52.8" font-size="18.5">f</text>
<text x="320.40000000000003" y="76.4" font-size="19.5">yy</text>
<text x="409.6" y="64.4" font-size="24" textLength="13.2" lengthAdjust="spacingAndGlyphs">T</text>
<text x="425.1" y="52.8" font-size="18.5">f</text>
<text x="424.70000000000005" y="76.4" font-size="19.5">xy</text>
<text x="513.3" y="64.4" font-size="24" textLength="13.2" lengthAdjust="spacingAndGlyphs">T</text>
<text x="528.8" y="52.8" font-size="18.5">f</text>
<text x="528.4" y="76.4" font-size="19.5">yx</text>
<text x="616.0" y="64.4" font-size="24" textLength="13.2" lengthAdjust="spacingAndGlyphs">T</text>
<text x="631.5" y="52.8" font-size="18.5">f</text>
<text x="631.1" y="76.4" font-size="19.5">xx</text>
<ellipse cx="129.2" cy="203.5" rx="21.6" ry="16.0" fill="none" stroke="#000" stroke-width="3.6"/>
<ellipse cx="181.7" cy="170.7" rx="21.4" ry="16.2" fill="none" stroke="#000" stroke-width="3.6"/>
<ellipse cx="561.6" cy="140.0" rx="33.6" ry="16.5" fill="none" stroke="#000" stroke-width="3.6"/>
<ellipse cx="597.1" cy="253.2" rx="21.5" ry="16.2" fill="none" stroke="#000" stroke-width="3.6"/>
<path d="M143.8,217.3L204.4,277.2" stroke="#000" stroke-width="3.6" fill="none"/><path d="M210.5,283.2L199.4,279.3L204.4,277.2L206.5,272.2Z" fill="#000"/>
<path d="M197.2,183.1L232.7,217.6" stroke="#000" stroke-width="3.6" fill="none"/><path d="M238.9,223.6L227.8,219.8L232.7,217.6L234.8,212.6Z" fill="#000"/>
<path d="M527.7,135.2L502.3,126.2" stroke="#000" stroke-width="3.6" fill="none"/><path d="M494.2,123.3L505.9,122.1L502.3,126.2L502.5,131.6Z" fill="#000"/>
<path d="M575.5,247.5L554.4,229.8" stroke="#000" stroke-width="3.6" fill="none"/><path d="M547.8,224.3L559.1,227.3L554.4,229.8L552.7,234.9Z" fill="#000"/>
<text x="230.6" y="247.5" font-size="25.5" textLength="118" lengthAdjust="spacingAndGlyphs">6.227–6.297</text>
<text x="208.2" y="304.0" font-size="25.5" textLength="118.3" lengthAdjust="spacingAndGlyphs">5.013–5.066</text>
<text x="348.8" y="125.2" font-size="25.5" textLength="140.3" lengthAdjust="spacingAndGlyphs">14.988–15.634</text>
<text x="435.0" y="217.7" font-size="25.5" textLength="129.8" lengthAdjust="spacingAndGlyphs">16.18–16.285</text>
<text x="364.5" y="571" text-anchor="middle" font-size="30">(a)</text>
<g stroke="#000" stroke-width="2.3" fill="none"><path d="M88.50,1064.20v-13.8 M88.50,620.00v13.8"/>
<path d="M96.82,1064.20v-7.2 M96.82,620.00v7.2"/>
<path d="M105.14,1064.20v-7.2 M105.14,620.00v7.2"/>
<path d="M113.46,1064.20v-7.2 M113.46,620.00v7.2"/>
<path d="M121.77,1064.20v-7.2 M121.77,620.00v7.2"/>
<path d="M130.09,1064.20v-7.2 M130.09,620.00v7.2"/>
<path d="M138.41,1064.20v-7.2 M138.41,620.00v7.2"/>
<path d="M146.73,1064.20v-7.2 M146.73,620.00v7.2"/>
<path d="M155.05,1064.20v-7.2 M155.05,620.00v7.2"/>
<path d="M163.37,1064.20v-7.2 M163.37,620.00v7.2"/>
<path d="M171.69,1064.20v-13.8 M171.69,620.00v13.8"/>
<path d="M180.00,1064.20v-7.2 M180.00,620.00v7.2"/>
<path d="M188.32,1064.20v-7.2 M188.32,620.00v7.2"/>
<path d="M196.64,1064.20v-7.2 M196.64,620.00v7.2"/>
<path d="M204.96,1064.20v-7.2 M204.96,620.00v7.2"/>
<path d="M213.28,1064.20v-7.2 M213.28,620.00v7.2"/>
<path d="M221.60,1064.20v-7.2 M221.60,620.00v7.2"/>
<path d="M229.92,1064.20v-7.2 M229.92,620.00v7.2"/>
<path d="M238.23,1064.20v-7.2 M238.23,620.00v7.2"/>
<path d="M246.55,1064.20v-7.2 M246.55,620.00v7.2"/>
<path d="M254.87,1064.20v-13.8 M254.87,620.00v13.8"/>
<path d="M263.19,1064.20v-7.2 M263.19,620.00v7.2"/>
<path d="M271.51,1064.20v-7.2 M271.51,620.00v7.2"/>
<path d="M279.83,1064.20v-7.2 M279.83,620.00v7.2"/>
<path d="M288.15,1064.20v-7.2 M288.15,620.00v7.2"/>
<path d="M296.46,1064.20v-7.2 M296.46,620.00v7.2"/>
<path d="M304.78,1064.20v-7.2 M304.78,620.00v7.2"/>
<path d="M313.10,1064.20v-7.2 M313.10,620.00v7.2"/>
<path d="M321.42,1064.20v-7.2 M321.42,620.00v7.2"/>
<path d="M329.74,1064.20v-7.2 M329.74,620.00v7.2"/>
<path d="M338.06,1064.20v-13.8 M338.06,620.00v13.8"/>
<path d="M346.38,1064.20v-7.2 M346.38,620.00v7.2"/>
<path d="M354.69,1064.20v-7.2 M354.69,620.00v7.2"/>
<path d="M363.01,1064.20v-7.2 M363.01,620.00v7.2"/>
<path d="M371.33,1064.20v-7.2 M371.33,620.00v7.2"/>
<path d="M379.65,1064.20v-7.2 M379.65,620.00v7.2"/>
<path d="M387.97,1064.20v-7.2 M387.97,620.00v7.2"/>
<path d="M396.29,1064.20v-7.2 M396.29,620.00v7.2"/>
<path d="M404.61,1064.20v-7.2 M404.61,620.00v7.2"/>
<path d="M412.92,1064.20v-7.2 M412.92,620.00v7.2"/>
<path d="M421.24,1064.20v-13.8 M421.24,620.00v13.8"/>
<path d="M429.56,1064.20v-7.2 M429.56,620.00v7.2"/>
<path d="M437.88,1064.20v-7.2 M437.88,620.00v7.2"/>
<path d="M446.20,1064.20v-7.2 M446.20,620.00v7.2"/>
<path d="M454.52,1064.20v-7.2 M454.52,620.00v7.2"/>
<path d="M462.84,1064.20v-7.2 M462.84,620.00v7.2"/>
<path d="M471.15,1064.20v-7.2 M471.15,620.00v7.2"/>
<path d="M479.47,1064.20v-7.2 M479.47,620.00v7.2"/>
<path d="M487.79,1064.20v-7.2 M487.79,620.00v7.2"/>
<path d="M496.11,1064.20v-7.2 M496.11,620.00v7.2"/>
<path d="M504.43,1064.20v-13.8 M504.43,620.00v13.8"/>
<path d="M512.75,1064.20v-7.2 M512.75,620.00v7.2"/>
<path d="M521.07,1064.20v-7.2 M521.07,620.00v7.2"/>
<path d="M529.38,1064.20v-7.2 M529.38,620.00v7.2"/>
<path d="M537.70,1064.20v-7.2 M537.70,620.00v7.2"/>
<path d="M546.02,1064.20v-7.2 M546.02,620.00v7.2"/>
<path d="M554.34,1064.20v-7.2 M554.34,620.00v7.2"/>
<path d="M562.66,1064.20v-7.2 M562.66,620.00v7.2"/>
<path d="M570.98,1064.20v-7.2 M570.98,620.00v7.2"/>
<path d="M579.30,1064.20v-7.2 M579.30,620.00v7.2"/>
<path d="M587.61,1064.20v-13.8 M587.61,620.00v13.8"/>
<path d="M595.93,1064.20v-7.2 M595.93,620.00v7.2"/>
<path d="M604.25,1064.20v-7.2 M604.25,620.00v7.2"/>
<path d="M612.57,1064.20v-7.2 M612.57,620.00v7.2"/>
<path d="M620.89,1064.20v-7.2 M620.89,620.00v7.2"/>
<path d="M629.21,1064.20v-7.2 M629.21,620.00v7.2"/>
<path d="M637.53,1064.20v-7.2 M637.53,620.00v7.2"/>
<path d="M645.84,1064.20v-7.2 M645.84,620.00v7.2"/>
<path d="M654.16,1064.20v-7.2 M654.16,620.00v7.2"/>
<path d="M662.48,1064.20v-7.2 M662.48,620.00v7.2"/>
<path d="M670.80,1064.20v-13.8 M670.80,620.00v13.8"/>
<path d="M88.50,1064.20h13.8 M670.80,1064.20h-13.8"/>
<path d="M88.50,1053.10h7.2 M670.80,1053.10h-7.2"/>
<path d="M88.50,1041.99h7.2 M670.80,1041.99h-7.2"/>
<path d="M88.50,1030.88h7.2 M670.80,1030.88h-7.2"/>
<path d="M88.50,1019.78h7.2 M670.80,1019.78h-7.2"/>
<path d="M88.50,1008.67h13.8 M670.80,1008.67h-13.8"/>
<path d="M88.50,997.57h7.2 M670.80,997.57h-7.2"/>
<path d="M88.50,986.46h7.2 M670.80,986.46h-7.2"/>
<path d="M88.50,975.36h7.2 M670.80,975.36h-7.2"/>
<path d="M88.50,964.25h7.2 M670.80,964.25h-7.2"/>
<path d="M88.50,953.15h13.8 M670.80,953.15h-13.8"/>
<path d="M88.50,942.04h7.2 M670.80,942.04h-7.2"/>
<path d="M88.50,930.94h7.2 M670.80,930.94h-7.2"/>
<path d="M88.50,919.84h7.2 M670.80,919.84h-7.2"/>
<path d="M88.50,908.73h7.2 M670.80,908.73h-7.2"/>
<path d="M88.50,897.62h13.8 M670.80,897.62h-13.8"/>
<path d="M88.50,886.52h7.2 M670.80,886.52h-7.2"/>
<path d="M88.50,875.41h7.2 M670.80,875.41h-7.2"/>
<path d="M88.50,864.31h7.2 M670.80,864.31h-7.2"/>
<path d="M88.50,853.21h7.2 M670.80,853.21h-7.2"/>
<path d="M88.50,842.10h13.8 M670.80,842.10h-13.8"/>
<path d="M88.50,831.00h7.2 M670.80,831.00h-7.2"/>
<path d="M88.50,819.89h7.2 M670.80,819.89h-7.2"/>
<path d="M88.50,808.78h7.2 M670.80,808.78h-7.2"/>
<path d="M88.50,797.68h7.2 M670.80,797.68h-7.2"/>
<path d="M88.50,786.58h13.8 M670.80,786.58h-13.8"/>
<path d="M88.50,775.47h7.2 M670.80,775.47h-7.2"/>
<path d="M88.50,764.37h7.2 M670.80,764.37h-7.2"/>
<path d="M88.50,753.26h7.2 M670.80,753.26h-7.2"/>
<path d="M88.50,742.15h7.2 M670.80,742.15h-7.2"/>
<path d="M88.50,731.05h13.8 M670.80,731.05h-13.8"/>
<path d="M88.50,719.94h7.2 M670.80,719.94h-7.2"/>
<path d="M88.50,708.84h7.2 M670.80,708.84h-7.2"/>
<path d="M88.50,697.73h7.2 M670.80,697.73h-7.2"/>
<path d="M88.50,686.63h7.2 M670.80,686.63h-7.2"/>
<path d="M88.50,675.53h13.8 M670.80,675.53h-13.8"/>
<path d="M88.50,664.42h7.2 M670.80,664.42h-7.2"/>
<path d="M88.50,653.32h7.2 M670.80,653.32h-7.2"/>
<path d="M88.50,642.21h7.2 M670.80,642.21h-7.2"/>
<path d="M88.50,631.11h7.2 M670.80,631.11h-7.2"/>
<path d="M88.50,620.00h13.8 M670.80,620.00h-13.8"/></g>
<rect x="88.5" y="620.0" width="582.3" height="444.2" fill="none" stroke="#000" stroke-width="2.5"/>
<g fill="none" stroke-linejoin="round">
<path d="M88.5,644.6 L89.5,646.2 L90.5,647.9 L91.5,649.6 L92.5,651.3 L93.5,653.1 L94.5,654.9 L95.5,656.6 L96.5,658.4 L97.5,660.2 L98.5,662.2 L99.5,664.3 L100.5,666.8 L101.5,669.6 L102.5,672.8 L103.5,676.0 L104.5,679.2 L105.5,682.5 L106.5,685.9 L107.5,689.5 L108.5,693.4 L109.5,697.4 L110.5,701.7 L111.5,706.2 L112.5,711.1 L113.5,716.2 L114.5,721.9 L115.5,727.9 L116.5,733.9 L117.5,740.1 L118.5,746.3 L119.5,752.7 L120.5,759.6 L121.5,767.3 L122.5,776.5 L123.5,787.2 L124.5,799.1 L125.5,811.5 L126.5,821.3 L127.5,831.6 L128.5,834.1 L129.5,824.9 L130.5,810.6 L131.5,795.6 L132.5,779.8 L133.5,766.6 L134.5,756.8 L135.5,739.9 L136.5,715.7 L137.5,704.6 L138.5,698.2 L139.5,692.8 L140.5,688.8 L141.5,686.5 L142.5,684.7 L143.5,683.6 L144.5,683.5 L145.5,684.1 L146.5,685.2 L147.5,686.6 L148.5,688.0 L149.5,690.1 L150.5,692.5 L151.5,694.9 L152.5,697.4 L153.5,700.0 L154.5,702.8 L155.5,705.8 L156.5,709.1 L157.5,712.5 L158.5,716.0 L159.5,719.5 L160.5,723.1 L161.5,726.9 L162.5,731.2 L163.5,736.0 L164.5,741.2 L165.5,747.0 L166.5,754.1 L167.5,761.6 L168.5,768.0 L169.5,773.8 L170.5,780.0 L171.5,786.8 L172.5,793.4 L173.5,800.1 L174.5,805.5 L175.5,810.2 L176.5,812.2 L177.5,810.4 L178.5,806.5 L179.5,798.7 L180.5,787.4 L181.5,776.2 L182.5,765.5 L183.5,754.9 L184.5,745.9 L185.5,738.1 L186.5,730.5 L187.5,722.0 L188.5,710.7 L189.5,697.9 L190.5,689.6 L191.5,684.2 L192.5,680.2 L193.5,677.8 L194.5,676.2 L195.5,674.7 L196.5,673.7 L197.5,673.0 L198.5,672.9 L199.5,673.1 L200.5,673.6 L201.5,674.2 L202.5,675.0 L203.5,675.8 L204.5,676.7 L205.5,677.6 L206.5,678.4 L207.5,679.3 L208.5,680.3 L209.5,681.4 L210.5,682.5 L211.5,683.6 L212.5,684.7 L213.5,685.8 L214.5,686.8 L215.5,687.9 L216.5,689.0 L217.5,690.0 L218.5,691.1 L219.5,692.2 L220.5,693.3 L221.5,694.3 L222.5,695.3 L223.5,696.3 L224.5,697.3 L225.5,698.3 L226.5,699.2 L227.5,700.2 L228.5,701.1 L229.5,702.1 L230.5,703.0 L231.5,704.0 L232.5,704.9 L233.5,705.8 L234.5,706.8 L235.5,707.7 L236.5,708.6 L237.5,709.5 L238.5,710.5 L239.5,711.4 L240.5,712.3 L241.5,713.2 L242.5,714.0 L243.5,714.9 L244.5,715.8 L245.5,716.6 L246.5,717.5 L247.5,718.4 L248.5,719.2 L249.5,720.1 L250.5,721.1 L251.5,722.0 L252.5,723.0 L253.5,723.9 L254.5,725.0 L255.5,726.0 L256.5,727.2 L257.5,728.4 L258.5,729.7 L259.5,730.9 L260.5,732.1 L261.5,733.3 L262.5,734.5 L263.5,735.7 L264.5,736.8 L265.5,738.0 L266.5,739.3 L267.5,740.5 L268.5,741.7 L269.5,743.0 L270.5,744.3 L271.5,745.7 L272.5,747.1 L273.5,748.6 L274.5,750.1 L275.5,751.7 L276.5,753.4 L277.5,755.2 L278.5,757.2 L279.5,759.4 L280.5,761.8 L281.5,764.5 L282.5,767.3 L283.5,770.2 L284.5,773.4 L285.5,776.8 L286.5,780.4 L287.5,784.0 L288.5,787.9 L289.5,792.1 L290.5,797.0 L291.5,802.3 L292.5,807.2 L293.5,811.9 L294.5,815.8 L295.5,818.6 L296.5,816.7 L297.5,811.9 L298.5,801.6 L299.5,787.9 L300.5,773.0 L301.5,759.2 L302.5,749.9 L303.5,743.0 L304.5,737.2 L305.5,734.3 L306.5,733.1 L307.5,732.2 L308.5,731.8 L309.5,732.0 L310.5,732.6 L311.5,733.4 L312.5,734.5 L313.5,735.5 L314.5,736.7 L315.5,738.0 L316.5,739.6 L317.5,741.1 L318.5,742.6 L319.5,744.0 L320.5,745.3 L321.5,746.7 L322.5,747.9 L323.5,749.0 L324.5,749.9 L325.5,750.6 L326.5,751.2 L327.5,751.8 L328.5,752.5 L329.5,753.3 L330.5,754.4 L331.5,755.6 L332.5,757.1 L333.5,758.8 L334.5,760.5 L335.5,762.4 L336.5,764.3 L337.5,766.3 L338.5,768.5 L339.5,770.9 L340.5,773.4 L341.5,776.0 L342.5,778.7 L343.5,781.4 L344.5,784.3 L345.5,787.3 L346.5,790.4 L347.5,793.7 L348.5,797.3 L349.5,801.1 L350.5,804.9 L351.5,808.6 L352.5,812.3 L353.5,815.3 L354.5,817.8 L355.5,817.1 L356.5,813.7 L357.5,809.2 L358.5,802.5 L359.5,795.0 L360.5,786.5 L361.5,778.8 L362.5,772.4 L363.5,767.2 L364.5,763.4 L365.5,761.2 L366.5,759.4 L367.5,758.4 L368.5,757.7 L369.5,757.2 L370.5,756.8 L371.5,756.5 L372.5,756.3 L373.5,756.3 L374.5,756.5 L375.5,756.7 L376.5,757.0 L377.5,757.3 L378.5,757.6 L379.5,758.0 L380.5,758.3 L381.5,758.7 L382.5,759.2 L383.5,759.6 L384.5,760.1 L385.5,760.5 L386.5,761.0 L387.5,761.4 L388.5,761.9 L389.5,762.4 L390.5,762.9 L391.5,763.4 L392.5,763.9 L393.5,764.4 L394.5,765.0 L395.5,765.5 L396.5,766.1 L397.5,766.6 L398.5,767.2 L399.5,767.8 L400.5,768.3 L401.5,768.9 L402.5,769.5 L403.5,770.2 L404.5,770.8 L405.5,771.4 L406.5,772.1 L407.5,772.7 L408.5,773.4 L409.5,774.1 L410.5,775.0 L411.5,775.9 L412.5,776.8 L413.5,777.8 L414.5,778.9 L415.5,780.1 L416.5,781.4 L417.5,782.7 L418.5,784.0 L419.5,785.5 L420.5,787.2 L421.5,789.0 L422.5,790.9 L423.5,792.9 L424.5,795.1 L425.5,797.5 L426.5,800.1 L427.5,803.0 L428.5,806.0 L429.5,809.1 L430.5,812.3 L431.5,815.6 L432.5,819.2 L433.5,822.9 L434.5,827.0 L435.5,831.3 L436.5,836.1 L437.5,841.2 L438.5,846.6 L439.5,852.4 L440.5,858.8 L441.5,865.4 L442.5,872.2 L443.5,878.6 L444.5,884.8 L445.5,891.2 L446.5,898.1 L447.5,906.4 L448.5,916.7 L449.5,927.7 L450.5,937.5 L451.5,945.6 L452.5,953.2 L453.5,960.3 L454.5,966.8 L455.5,972.5 L456.5,977.2 L457.5,981.5 L458.5,985.7 L459.5,989.4 L460.5,992.2 L461.5,993.8 L462.5,993.6 L463.5,992.1 L464.5,989.6 L465.5,986.6 L466.5,983.4 L467.5,980.3 L468.5,976.6 L469.5,972.5 L470.5,968.0 L471.5,963.7 L472.5,959.6 L473.5,956.0 L474.5,952.6 L475.5,949.2 L476.5,946.0 L477.5,942.9 L478.5,939.9 L479.5,937.2 L480.5,934.7 L481.5,932.5 L482.5,930.4 L483.5,928.5 L484.5,926.6 L485.5,924.9 L486.5,923.2 L487.5,921.7 L488.5,920.2 L489.5,918.9 L490.5,917.6 L491.5,916.5 L492.5,915.4 L493.5,914.4 L494.5,913.4 L495.5,912.5 L496.5,911.6 L497.5,910.8 L498.5,910.1 L499.5,909.4 L500.5,908.9 L501.5,908.4 L502.5,908.0 L503.5,907.5 L504.5,907.2 L505.5,906.8 L506.5,906.5 L507.5,906.3 L508.5,906.2 L509.5,906.2 L510.5,906.3 L511.5,906.5 L512.5,906.8 L513.5,907.2 L514.5,907.6 L515.5,908.1 L516.5,908.5 L517.5,909.1 L518.5,909.6 L519.5,910.4 L520.5,911.3 L521.5,912.4 L522.5,913.6 L523.5,915.0 L524.5,916.5 L525.5,918.1 L526.5,919.7 L527.5,921.4 L528.5,923.0 L529.5,924.9 L530.5,927.0 L531.5,929.3 L532.5,931.7 L533.5,934.2 L534.5,936.8 L535.5,939.5 L536.5,942.1 L537.5,944.7 L538.5,947.2 L539.5,949.8 L540.5,952.5 L541.5,955.4 L542.5,958.2 L543.5,960.9 L544.5,963.4 L545.5,965.5 L546.5,967.3 L547.5,968.7 L548.5,970.2 L549.5,971.5 L550.5,972.7 L551.5,973.7 L552.5,974.4 L553.5,974.8 L554.5,974.7 L555.5,974.2 L556.5,973.2 L557.5,972.0 L558.5,970.6 L559.5,969.2 L560.5,967.8 L561.5,966.3 L562.5,964.5 L563.5,962.5 L564.5,960.4 L565.5,958.2 L566.5,956.0 L567.5,953.8 L568.5,951.7 L569.5,949.7 L570.5,947.9 L571.5,946.1 L572.5,944.3 L573.5,942.5 L574.5,940.7 L575.5,938.8 L576.5,936.7 L577.5,934.5 L578.5,932.1 L579.5,929.4 L580.5,926.1 L581.5,922.4 L582.5,918.3 L583.5,914.0 L584.5,909.6 L585.5,905.2 L586.5,900.9 L587.5,896.6 L588.5,892.2 L589.5,887.7 L590.5,883.2 L591.5,878.6 L592.5,874.1 L593.5,869.3 L594.5,864.2 L595.5,859.3 L596.5,854.7 L597.5,850.7 L598.5,847.3 L599.5,844.2 L600.5,841.4 L601.5,838.7 L602.5,836.2 L603.5,833.9 L604.5,831.7 L605.5,829.6 L606.5,827.6 L607.5,825.6 L608.5,823.7 L609.5,821.9 L610.5,820.3 L611.5,818.8 L612.5,817.6 L613.5,816.7 L614.5,815.9 L615.5,815.2 L616.5,814.4 L617.5,813.8 L618.5,813.2 L619.5,812.7 L620.5,812.3 L621.5,812.1 L622.5,812.0 L623.5,812.2 L624.5,812.9 L625.5,814.1 L626.5,815.6 L627.5,817.4 L628.5,819.5 L629.5,821.6 L630.5,824.2 L631.5,828.3 L632.5,833.0 L633.5,837.4 L634.5,840.8 L635.5,844.1 L636.5,846.9 L637.5,848.8 L638.5,849.3 L639.5,849.6 L640.5,849.7 L641.5,849.8 L642.5,849.5 L643.5,848.8 L644.5,847.9 L645.5,847.4 L646.5,847.4 L647.5,847.8 L648.5,848.7 L649.5,849.9 L650.5,851.2 L651.5,852.7 L652.5,855.0 L653.5,858.1 L654.5,861.3 L655.5,863.7 L656.5,865.5 L657.5,867.2 L658.5,868.7 L659.5,869.8 L660.5,870.2 L661.5,870.1 L662.5,869.8 L663.5,869.4 L664.5,868.9 L665.5,868.4 L666.5,867.9 L667.5,867.4 L668.5,866.9 L669.5,866.3 L670.5,865.6 L671.0,865.3" stroke="#0808e8" stroke-width="3.6"/>
<path d="M88.5,1055.3 L89.5,1054.9 L90.5,1054.4 L91.5,1053.8 L92.5,1053.2 L93.5,1052.5 L94.5,1051.8 L95.5,1051.0 L96.5,1050.2 L97.5,1049.4 L98.5,1048.5 L99.5,1047.6 L100.5,1046.6 L101.5,1045.5 L102.5,1044.4 L103.5,1043.2 L104.5,1041.8 L105.5,1040.4 L106.5,1038.9 L107.5,1037.2 L108.5,1035.3 L109.5,1033.2 L110.5,1030.9 L111.5,1028.5 L112.5,1025.9 L113.5,1023.1 L114.5,1020.3 L115.5,1017.3 L116.5,1013.9 L117.5,1010.3 L118.5,1006.3 L119.5,1002.2 L120.5,997.8 L121.5,993.3 L122.5,988.7 L123.5,983.5 L124.5,978.0 L125.5,972.2 L126.5,966.4 L127.5,961.0 L128.5,956.0 L129.5,950.5 L130.5,945.3 L131.5,941.9 L132.5,941.6 L133.5,943.4 L134.5,946.3 L135.5,949.8 L136.5,953.3 L137.5,956.5 L138.5,960.1 L139.5,963.9 L140.5,967.7 L141.5,971.3 L142.5,974.2 L143.5,976.7 L144.5,979.0 L145.5,981.2 L146.5,983.2 L147.5,985.0 L148.5,986.5 L149.5,987.6 L150.5,988.4 L151.5,989.0 L152.5,989.5 L153.5,990.0 L154.5,990.4 L155.5,990.8 L156.5,990.9 L157.5,991.0 L158.5,990.9 L159.5,990.5 L160.5,990.0 L161.5,989.3 L162.5,988.5 L163.5,987.7 L164.5,986.9 L165.5,985.9 L166.5,984.7 L167.5,983.3 L168.5,981.8 L169.5,980.2 L170.5,978.7 L171.5,977.2 L172.5,975.8 L173.5,974.3 L174.5,972.6 L175.5,971.1 L176.5,969.8 L177.5,968.9 L178.5,968.6 L179.5,969.2 L180.5,970.6 L181.5,972.7 L182.5,975.1 L183.5,977.6 L184.5,980.7 L185.5,984.8 L186.5,989.6 L187.5,994.6 L188.5,999.6 L189.5,1004.2 L190.5,1008.5 L191.5,1013.0 L192.5,1017.4 L193.5,1021.5 L194.5,1025.1 L195.5,1028.0 L196.5,1030.6 L197.5,1033.1 L198.5,1035.3 L199.5,1037.4 L200.5,1039.2 L201.5,1040.7 L202.5,1042.0 L203.5,1043.1 L204.5,1044.0 L205.5,1044.9 L206.5,1045.7 L207.5,1046.5 L208.5,1047.1 L209.5,1047.7 L210.5,1048.2 L211.5,1048.6 L212.5,1049.0 L213.5,1049.4 L214.5,1049.7 L215.5,1050.1 L216.5,1050.4 L217.5,1050.6 L218.5,1050.9 L219.5,1051.1 L220.5,1051.3 L221.5,1051.5 L222.5,1051.7 L223.5,1051.9 L224.5,1052.0 L225.5,1052.2 L226.5,1052.3 L227.5,1052.4 L228.5,1052.5 L229.5,1052.6 L230.5,1052.7 L231.5,1052.7 L232.5,1052.7 L233.5,1052.7 L234.5,1052.6 L235.5,1052.5 L236.5,1052.5 L237.5,1052.3 L238.5,1052.2 L239.5,1052.1 L240.5,1052.0 L241.5,1051.8 L242.5,1051.7 L243.5,1051.5 L244.5,1051.3 L245.5,1051.1 L246.5,1050.8 L247.5,1050.5 L248.5,1050.2 L249.5,1049.8 L250.5,1049.4 L251.5,1049.0 L252.5,1048.6 L253.5,1048.1 L254.5,1047.7 L255.5,1047.3 L256.5,1046.8 L257.5,1046.3 L258.5,1045.9 L259.5,1045.3 L260.5,1044.8 L261.5,1044.2 L262.5,1043.7 L263.5,1043.0 L264.5,1042.4 L265.5,1041.7 L266.5,1041.0 L267.5,1040.2 L268.5,1039.4 L269.5,1038.5 L270.5,1037.6 L271.5,1036.6 L272.5,1035.5 L273.5,1034.4 L274.5,1033.2 L275.5,1032.0 L276.5,1030.8 L277.5,1029.6 L278.5,1028.2 L279.5,1026.8 L280.5,1025.2 L281.5,1023.4 L282.5,1021.3 L283.5,1018.9 L284.5,1016.1 L285.5,1013.0 L286.5,1009.6 L287.5,1005.9 L288.5,1002.0 L289.5,997.9 L290.5,993.0 L291.5,987.4 L292.5,981.4 L293.5,975.4 L294.5,969.7 L295.5,964.4 L296.5,958.4 L297.5,952.2 L298.5,946.9 L299.5,943.3 L300.5,942.4 L301.5,945.0 L302.5,950.2 L303.5,956.7 L304.5,963.1 L305.5,967.9 L306.5,972.0 L307.5,976.0 L308.5,979.8 L309.5,983.1 L310.5,986.0 L311.5,988.4 L312.5,990.5 L313.5,992.4 L314.5,994.1 L315.5,995.7 L316.5,997.1 L317.5,998.3 L318.5,999.3 L319.5,1000.3 L320.5,1001.2 L321.5,1002.1 L322.5,1003.0 L323.5,1003.7 L324.5,1004.3 L325.5,1004.8 L326.5,1005.0 L327.5,1005.1 L328.5,1004.7 L329.5,1003.9 L330.5,1002.8 L331.5,1001.4 L332.5,999.8 L333.5,998.0 L334.5,996.1 L335.5,994.2 L336.5,992.2 L337.5,989.8 L338.5,987.1 L339.5,984.0 L340.5,980.5 L341.5,976.8 L342.5,972.9 L343.5,968.7 L344.5,963.9 L345.5,958.4 L346.5,952.3 L347.5,945.9 L348.5,939.1 L349.5,932.1 L350.5,923.8 L351.5,915.0 L352.5,906.5 L353.5,899.4 L354.5,892.4 L355.5,885.8 L356.5,881.2 L357.5,880.3 L358.5,882.7 L359.5,887.4 L360.5,893.3 L361.5,899.4 L362.5,906.1 L363.5,914.3 L364.5,923.3 L365.5,932.2 L366.5,940.1 L367.5,947.1 L368.5,953.9 L369.5,960.3 L370.5,966.4 L371.5,971.7 L372.5,976.3 L373.5,980.4 L374.5,984.1 L375.5,987.5 L376.5,990.7 L377.5,993.6 L378.5,996.2 L379.5,998.7 L380.5,1001.0 L381.5,1003.3 L382.5,1005.4 L383.5,1007.4 L384.5,1009.2 L385.5,1011.0 L386.5,1012.6 L387.5,1014.0 L388.5,1015.3 L389.5,1016.5 L390.5,1017.6 L391.5,1018.7 L392.5,1019.7 L393.5,1020.7 L394.5,1021.6 L395.5,1022.4 L396.5,1023.2 L397.5,1023.9 L398.5,1024.6 L399.5,1025.2 L400.5,1025.7 L401.5,1026.2 L402.5,1026.7 L403.5,1027.2 L404.5,1027.7 L405.5,1028.1 L406.5,1028.5 L407.5,1028.9 L408.5,1029.2 L409.5,1029.5 L410.5,1029.7 L411.5,1029.9 L412.5,1030.0 L413.5,1030.1 L414.5,1030.2 L415.5,1030.3 L416.5,1030.4 L417.5,1030.5 L418.5,1030.5 L419.5,1030.5 L420.5,1030.4 L421.5,1030.3 L422.5,1030.1 L423.5,1029.8 L424.5,1029.5 L425.5,1029.1 L426.5,1028.7 L427.5,1028.2 L428.5,1027.7 L429.5,1027.3 L430.5,1026.7 L431.5,1026.1 L432.5,1025.4 L433.5,1024.6 L434.5,1023.6 L435.5,1022.5 L436.5,1021.3 L437.5,1020.0 L438.5,1018.5 L439.5,1016.7 L440.5,1014.4 L441.5,1011.7 L442.5,1008.8 L443.5,1005.6 L444.5,1002.4 L445.5,998.9 L446.5,994.8 L447.5,990.6 L448.5,986.3 L449.5,982.3 L450.5,978.5 L451.5,974.7 L452.5,970.9 L453.5,967.4 L454.5,964.1 L455.5,961.0 L456.5,958.0 L457.5,955.1 L458.5,952.3 L459.5,949.9 L460.5,947.9 L461.5,946.3 L462.5,944.8 L463.5,943.4 L464.5,942.1 L465.5,940.9 L466.5,939.9 L467.5,939.1 L468.5,938.4 L469.5,937.8 L470.5,937.3 L471.5,936.9 L472.5,936.6 L473.5,936.2 L474.5,935.9 L475.5,935.7 L476.5,935.4 L477.5,935.1 L478.5,934.9 L479.5,934.5 L480.5,934.2 L481.5,933.8 L482.5,933.4 L483.5,933.0 L484.5,932.5 L485.5,932.1 L486.5,931.6 L487.5,931.1 L488.5,930.5 L489.5,930.0 L490.5,929.4 L491.5,928.8 L492.5,928.2 L493.5,927.5 L494.5,926.9 L495.5,926.2 L496.5,925.4 L497.5,924.6 L498.5,923.8 L499.5,922.9 L500.5,921.9 L501.5,920.8 L502.5,919.6 L503.5,918.2 L504.5,916.6 L505.5,914.8 L506.5,913.0 L507.5,911.1 L508.5,909.3 L509.5,907.4 L510.5,905.5 L511.5,903.4 L512.5,901.2 L513.5,898.8 L514.5,896.1 L515.5,892.9 L516.5,889.4 L517.5,885.5 L518.5,881.4 L519.5,877.3 L520.5,873.1 L521.5,869.0 L522.5,865.0 L523.5,861.2 L524.5,857.4 L525.5,853.7 L526.5,849.9 L527.5,846.0 L528.5,842.0 L529.5,837.8 L530.5,833.5 L531.5,828.8 L532.5,823.9 L533.5,818.6 L534.5,813.1 L535.5,807.6 L536.5,802.1 L537.5,796.6 L538.5,791.0 L539.5,785.3 L540.5,779.6 L541.5,773.9 L542.5,768.3 L543.5,762.8 L544.5,757.5 L545.5,752.3 L546.5,747.1 L547.5,741.9 L548.5,736.8 L549.5,731.9 L550.5,727.3 L551.5,723.1 L552.5,719.3 L553.5,715.6 L554.5,712.0 L555.5,708.8 L556.5,705.9 L557.5,703.7 L558.5,702.2 L559.5,700.8 L560.5,699.6 L561.5,698.5 L562.5,697.7 L563.5,697.2 L564.5,697.0 L565.5,697.2 L566.5,697.8 L567.5,698.6 L568.5,699.6 L569.5,700.8 L570.5,702.1 L571.5,703.5 L572.5,705.3 L573.5,707.6 L574.5,710.3 L575.5,713.3 L576.5,716.6 L577.5,720.1 L578.5,723.7 L579.5,727.6 L580.5,732.0 L581.5,736.9 L582.5,742.2 L583.5,747.8 L584.5,753.8 L585.5,760.0 L586.5,766.8 L587.5,774.5 L588.5,782.9 L589.5,791.6 L590.5,800.3 L591.5,808.8 L592.5,817.0 L593.5,825.3 L594.5,833.8 L595.5,842.8 L596.5,852.6 L597.5,862.9 L598.5,873.1 L599.5,882.9 L600.5,891.9 L601.5,900.6 L602.5,909.1 L603.5,917.4 L604.5,925.8 L605.5,934.3 L606.5,943.1 L607.5,952.1 L608.5,961.1 L609.5,969.8 L610.5,977.9 L611.5,985.1 L612.5,992.1 L613.5,998.6 L614.5,1004.4 L615.5,1008.9 L616.5,1012.3 L617.5,1015.2 L618.5,1017.5 L619.5,1019.5 L620.5,1021.3 L621.5,1023.0 L622.5,1024.1 L623.5,1024.2 L624.5,1022.9 L625.5,1020.4 L626.5,1017.3 L627.5,1013.8 L628.5,1010.4 L629.5,1007.4 L630.5,1004.5 L631.5,1001.3 L632.5,997.9 L633.5,994.9 L634.5,992.5 L635.5,991.2 L636.5,991.2 L637.5,992.8 L638.5,995.3 L639.5,998.2 L640.5,1001.1 L641.5,1003.2 L642.5,1004.0 L643.5,1003.3 L644.5,1001.4 L645.5,998.7 L646.5,995.6 L647.5,992.5 L648.5,988.6 L649.5,983.6 L650.5,978.3 L651.5,973.2 L652.5,968.8 L653.5,965.4 L654.5,962.0 L655.5,958.8 L656.5,956.2 L657.5,954.6 L658.5,954.3 L659.5,955.5 L660.5,957.8 L661.5,960.9 L662.5,964.4 L663.5,967.8 L664.5,971.6 L665.5,976.1 L666.5,981.1 L667.5,986.2 L668.5,991.0 L669.5,995.4 L670.5,999.5 L671.0,1001.5" stroke="#dc0a10" stroke-width="3.6" stroke-dasharray="14.5 14.5"/>
<path d="M88.5,1048.0 L89.5,1047.6 L90.5,1047.0 L91.5,1046.2 L92.5,1045.3 L93.5,1044.3 L94.5,1043.1 L95.5,1041.9 L96.5,1040.6 L97.5,1039.2 L98.5,1037.7 L99.5,1035.9 L100.5,1033.9 L101.5,1031.7 L102.5,1029.3 L103.5,1026.7 L104.5,1024.0 L105.5,1021.1 L106.5,1018.2 L107.5,1015.1 L108.5,1011.7 L109.5,1008.1 L110.5,1004.1 L111.5,999.8 L112.5,995.2 L113.5,990.1 L114.5,984.4 L115.5,977.5 L116.5,969.9 L117.5,961.8 L118.5,953.4 L119.5,945.0 L120.5,937.0 L121.5,929.0 L122.5,920.0 L123.5,908.8 L124.5,891.5 L125.5,871.3 L126.5,856.4 L127.5,843.3 L128.5,830.8 L129.5,819.9 L130.5,810.9 L131.5,803.9 L132.5,800.0 L133.5,797.4 L134.5,797.5 L135.5,801.0 L136.5,806.4 L137.5,812.2 L138.5,820.4 L139.5,830.2 L140.5,839.5 L141.5,846.6 L142.5,852.5 L143.5,858.0 L144.5,863.0 L145.5,867.2 L146.5,870.3 L147.5,872.2 L148.5,873.6 L149.5,874.8 L150.5,875.9 L151.5,876.7 L152.5,877.3 L153.5,877.5 L154.5,877.3 L155.5,876.5 L156.5,875.3 L157.5,873.9 L158.5,872.2 L159.5,870.2 L160.5,867.2 L161.5,863.4 L162.5,859.0 L163.5,854.2 L164.5,849.4 L165.5,844.3 L166.5,838.7 L167.5,832.6 L168.5,826.2 L169.5,819.7 L170.5,813.3 L171.5,806.7 L172.5,799.7 L173.5,792.9 L174.5,786.5 L175.5,780.4 L176.5,773.8 L177.5,767.7 L178.5,763.4 L179.5,762.3 L180.5,764.3 L181.5,768.7 L182.5,774.4 L183.5,780.6 L184.5,787.9 L185.5,797.5 L186.5,808.4 L187.5,819.6 L188.5,830.4 L189.5,841.8 L190.5,853.5 L191.5,865.0 L192.5,875.6 L193.5,885.5 L194.5,895.0 L195.5,904.1 L196.5,912.9 L197.5,921.5 L198.5,929.9 L199.5,938.0 L200.5,945.6 L201.5,952.5 L202.5,959.1 L203.5,965.5 L204.5,971.4 L205.5,976.9 L206.5,981.7 L207.5,985.8 L208.5,989.5 L209.5,993.0 L210.5,996.3 L211.5,999.3 L212.5,1002.1 L213.5,1004.7 L214.5,1007.1 L215.5,1009.4 L216.5,1011.4 L217.5,1013.4 L218.5,1015.2 L219.5,1017.0 L220.5,1018.6 L221.5,1020.2 L222.5,1021.6 L223.5,1023.0 L224.5,1024.3 L225.5,1025.5 L226.5,1026.7 L227.5,1027.7 L228.5,1028.7 L229.5,1029.7 L230.5,1030.6 L231.5,1031.5 L232.5,1032.3 L233.5,1033.1 L234.5,1033.9 L235.5,1034.7 L236.5,1035.4 L237.5,1036.2 L238.5,1036.9 L239.5,1037.6 L240.5,1038.3 L241.5,1039.0 L242.5,1039.7 L243.5,1040.3 L244.5,1041.0 L245.5,1041.6 L246.5,1042.1 L247.5,1042.7 L248.5,1043.2 L249.5,1043.7 L250.5,1044.2 L251.5,1044.6 L252.5,1045.0 L253.5,1045.4 L254.5,1045.8 L255.5,1046.2 L256.5,1046.6 L257.5,1046.9 L258.5,1047.3 L259.5,1047.6 L260.5,1047.9 L261.5,1048.1 L262.5,1048.4 L263.5,1048.6 L264.5,1048.8 L265.5,1049.0 L266.5,1049.2 L267.5,1049.4 L268.5,1049.6 L269.5,1049.9 L270.5,1050.2 L271.5,1050.5 L272.5,1050.8 L273.5,1051.1 L274.5,1051.4 L275.5,1051.6 L276.5,1051.7 L277.5,1051.8 L278.5,1051.6 L279.5,1051.2 L280.5,1050.4 L281.5,1049.5 L282.5,1048.5 L283.5,1047.4 L284.5,1046.2 L285.5,1045.1 L286.5,1043.6 L287.5,1042.0 L288.5,1040.2 L289.5,1038.2 L290.5,1036.1 L291.5,1033.8 L292.5,1031.2 L293.5,1028.3 L294.5,1025.3 L295.5,1022.4 L296.5,1019.7 L297.5,1016.8 L298.5,1013.7 L299.5,1011.1 L300.5,1009.6 L301.5,1009.5 L302.5,1010.2 L303.5,1011.4 L304.5,1012.7 L305.5,1014.1 L306.5,1015.8 L307.5,1017.8 L308.5,1020.1 L309.5,1022.3 L310.5,1024.4 L311.5,1026.2 L312.5,1027.8 L313.5,1029.5 L314.5,1031.1 L315.5,1032.5 L316.5,1033.9 L317.5,1034.9 L318.5,1035.8 L319.5,1036.5 L320.5,1037.1 L321.5,1037.7 L322.5,1038.3 L323.5,1038.8 L324.5,1039.3 L325.5,1039.8 L326.5,1040.2 L327.5,1040.6 L328.5,1040.9 L329.5,1041.2 L330.5,1041.4 L331.5,1041.6 L332.5,1041.8 L333.5,1041.9 L334.5,1042.1 L335.5,1042.2 L336.5,1042.3 L337.5,1042.4 L338.5,1042.4 L339.5,1042.3 L340.5,1042.0 L341.5,1041.4 L342.5,1040.6 L343.5,1039.7 L344.5,1038.7 L345.5,1037.8 L346.5,1036.8 L347.5,1035.7 L348.5,1034.4 L349.5,1033.0 L350.5,1031.6 L351.5,1030.3 L352.5,1029.2 L353.5,1028.3 L354.5,1027.6 L355.5,1026.9 L356.5,1026.4 L357.5,1026.1 L358.5,1026.2 L359.5,1026.6 L360.5,1027.2 L361.5,1027.9 L362.5,1028.6 L363.5,1029.3 L364.5,1030.2 L365.5,1031.1 L366.5,1032.0 L367.5,1033.0 L368.5,1034.0 L369.5,1034.9 L370.5,1035.8 L371.5,1036.6 L372.5,1037.3 L373.5,1037.9 L374.5,1038.5 L375.5,1039.1 L376.5,1039.7 L377.5,1040.3 L378.5,1040.9 L379.5,1041.4 L380.5,1041.9 L381.5,1042.3 L382.5,1042.7 L383.5,1043.1 L384.5,1043.4 L385.5,1043.6 L386.5,1043.8 L387.5,1044.0 L388.5,1044.2 L389.5,1044.4 L390.5,1044.5 L391.5,1044.7 L392.5,1044.8 L393.5,1045.0 L394.5,1045.1 L395.5,1045.2 L396.5,1045.3 L397.5,1045.3 L398.5,1045.4 L399.5,1045.4 L400.5,1045.4 L401.5,1045.4 L402.5,1045.3 L403.5,1045.2 L404.5,1045.1 L405.5,1044.9 L406.5,1044.8 L407.5,1044.6 L408.5,1044.4 L409.5,1044.2 L410.5,1043.9 L411.5,1043.7 L412.5,1043.5 L413.5,1043.3 L414.5,1043.0 L415.5,1042.8 L416.5,1042.6 L417.5,1042.3 L418.5,1042.1 L419.5,1041.8 L420.5,1041.5 L421.5,1041.2 L422.5,1040.9 L423.5,1040.6 L424.5,1040.2 L425.5,1039.9 L426.5,1039.6 L427.5,1039.2 L428.5,1038.9 L429.5,1038.5 L430.5,1038.2 L431.5,1037.8 L432.5,1037.3 L433.5,1036.9 L434.5,1036.5 L435.5,1036.1 L436.5,1035.7 L437.5,1035.3 L438.5,1034.9 L439.5,1034.6 L440.5,1034.4 L441.5,1034.1 L442.5,1033.9 L443.5,1033.6 L444.5,1033.4 L445.5,1033.2 L446.5,1033.0 L447.5,1032.8 L448.5,1032.7 L449.5,1032.6 L450.5,1032.6 L451.5,1032.6 L452.5,1032.8 L453.5,1033.0 L454.5,1033.4 L455.5,1033.7 L456.5,1034.2 L457.5,1034.6 L458.5,1035.1 L459.5,1035.6 L460.5,1036.1 L461.5,1036.5 L462.5,1036.9 L463.5,1037.3 L464.5,1037.8 L465.5,1038.3 L466.5,1038.7 L467.5,1039.2 L468.5,1039.7 L469.5,1040.2 L470.5,1040.7 L471.5,1041.1 L472.5,1041.6 L473.5,1042.1 L474.5,1042.6 L475.5,1043.1 L476.5,1043.5 L477.5,1044.0 L478.5,1044.5 L479.5,1044.9 L480.5,1045.4 L481.5,1045.9 L482.5,1046.3 L483.5,1046.8 L484.5,1047.3 L485.5,1047.7 L486.5,1048.2 L487.5,1048.6 L488.5,1049.1 L489.5,1049.5 L490.5,1049.9 L491.5,1050.4 L492.5,1050.8 L493.5,1051.2 L494.5,1051.5 L495.5,1051.9 L496.5,1052.3 L497.5,1052.6 L498.5,1052.9 L499.5,1053.3 L500.5,1053.6 L501.5,1053.9 L502.5,1054.2 L503.5,1054.6 L504.5,1054.9 L505.5,1055.2 L506.5,1055.5 L507.5,1055.8 L508.5,1056.2 L509.5,1056.5 L510.5,1056.8 L511.5,1057.2 L512.5,1057.6 L513.5,1058.0 L514.5,1058.4 L515.5,1058.8 L516.5,1059.3 L517.5,1059.7 L518.5,1060.2 L519.5,1060.6 L520.5,1061.0 L521.5,1061.4 L522.5,1061.8 L523.5,1062.2 L524.5,1062.5 L525.5,1062.8 L526.5,1063.1 L527.5,1063.3 L528.5,1063.5 L529.5,1063.6 L530.5,1063.8 L531.5,1063.9 L532.5,1064.1 L533.5,1064.1 L534.5,1064.2 L535.5,1064.2 L536.5,1063.9 L537.5,1063.5 L538.5,1062.9 L539.5,1062.1 L540.5,1061.2 L541.5,1060.3 L542.5,1059.3 L543.5,1058.4 L544.5,1057.5 L545.5,1056.6 L546.5,1055.9 L547.5,1055.3 L548.5,1054.8 L549.5,1054.2 L550.5,1053.7 L551.5,1053.2 L552.5,1052.7 L553.5,1052.2 L554.5,1051.8 L555.5,1051.3 L556.5,1050.9 L557.5,1050.5 L558.5,1050.2 L559.5,1049.8 L560.5,1049.6 L561.5,1049.3 L562.5,1049.1 L563.5,1048.9 L564.5,1048.7 L565.5,1048.5 L566.5,1048.3 L567.5,1048.1 L568.5,1047.9 L569.5,1047.7 L570.5,1047.6 L571.5,1047.5 L572.5,1047.4 L573.5,1047.3 L574.5,1047.2 L575.5,1047.2 L576.5,1047.2 L577.5,1047.3 L578.5,1047.4 L579.5,1047.5 L580.5,1047.7 L581.5,1047.9 L582.5,1048.1 L583.5,1048.4 L584.5,1048.7 L585.5,1049.0 L586.5,1049.3 L587.5,1049.7 L588.5,1050.2 L589.5,1050.9 L590.5,1051.7 L591.5,1052.6 L592.5,1053.5 L593.5,1054.4 L594.5,1055.3 L595.5,1056.0 L596.5,1056.7 L597.5,1057.2 L598.5,1057.7 L599.5,1058.2 L600.5,1058.7 L601.5,1059.1 L602.5,1059.5 L603.5,1059.9 L604.5,1060.2 L605.5,1060.5 L606.5,1060.7 L607.5,1060.8 L608.5,1060.8 L609.5,1060.7 L610.5,1060.6 L611.5,1060.5 L612.5,1060.3 L613.5,1060.1 L614.5,1059.9 L615.5,1059.6 L616.5,1059.4 L617.5,1059.1 L618.5,1058.8 L619.5,1058.6 L620.5,1058.3 L621.5,1058.1 L622.5,1057.9 L623.5,1057.7 L624.5,1057.5 L625.5,1057.4 L626.5,1057.2 L627.5,1057.0 L628.5,1056.9 L629.5,1056.7 L630.5,1056.5 L631.5,1056.4 L632.5,1056.2 L633.5,1056.0 L634.5,1055.8 L635.5,1055.6 L636.5,1055.4 L637.5,1055.2 L638.5,1055.0 L639.5,1054.8 L640.5,1054.5 L641.5,1054.3 L642.5,1054.1 L643.5,1053.8 L644.5,1053.5 L645.5,1053.3 L646.5,1053.0 L647.5,1052.7 L648.5,1052.5 L649.5,1052.2 L650.5,1051.9 L651.5,1051.7 L652.5,1051.4 L653.5,1051.1 L654.5,1050.7 L655.5,1050.4 L656.5,1050.1 L657.5,1049.8 L658.5,1049.5 L659.5,1049.2 L660.5,1048.9 L661.5,1048.6 L662.5,1048.4 L663.5,1048.2 L664.5,1048.0 L665.5,1047.9 L666.5,1047.7 L667.5,1047.6 L668.5,1047.4 L669.5,1047.3 L670.5,1047.2 L671.0,1047.2" stroke="#14e614" stroke-width="3.6" stroke-dasharray="13.5 3.7 7 3.7"/>
<path d="M88.5,644.6 L89.5,646.2 L90.5,647.9 L91.5,649.6 L92.5,651.3 L93.5,653.1 L94.5,654.9 L95.5,656.6 L96.5,658.4 L97.5,660.2 L98.5,662.2 L99.5,664.3 L100.5,666.8 L101.5,669.6 L102.5,672.8 L103.5,676.0 L104.5,679.2 L105.5,682.5 L106.5,685.9 L107.5,689.5 L108.5,693.4 L109.5,697.4 L110.5,701.7 L111.5,706.2 L112.5,711.1 L113.5,716.2 L114.5,721.9 L115.5,727.9 L116.5,733.9 L117.5,740.1 L118.5,746.3 L119.5,752.7 L120.5,759.6 L121.5,767.3 L122.5,776.5 L123.5,787.2 L124.5,799.1 L125.5,811.5 L126.5,821.3 L127.5,831.6 L128.5,834.1 L129.5,824.9 L130.5,810.6 L131.5,795.6 L132.5,779.8 L133.5,766.6 L134.5,756.8 L135.5,739.9 L136.5,715.7 L137.5,704.6 L138.5,698.2 L139.5,692.8 L140.5,688.8 L141.5,686.5 L142.5,684.7 L143.5,683.6 L144.5,683.5 L145.5,684.1 L146.5,685.2 L147.5,686.6 L148.5,688.0 L149.5,690.1 L150.5,692.5 L151.5,694.9 L152.5,697.4 L153.5,700.0 L154.5,702.8 L155.5,705.8 L156.5,709.1 L157.5,712.5 L158.5,716.0 L159.5,719.5 L160.5,723.1 L161.5,726.9 L162.5,731.2 L163.5,736.0 L164.5,741.2 L165.5,747.0 L166.5,754.1 L167.5,761.6 L168.5,768.0 L169.5,773.8 L170.5,780.0 L171.5,786.8 L172.5,793.4 L173.5,800.1 L174.5,805.5 L175.5,810.2 L176.5,812.2 L177.5,810.4 L178.5,806.5 L179.5,798.7 L180.5,787.4 L181.5,776.2 L182.5,765.5 L183.5,754.9 L184.5,745.9 L185.5,738.1 L186.5,730.5 L187.5,722.0 L188.5,710.7 L189.5,697.9 L190.5,689.6 L191.5,684.2 L192.5,680.2 L193.5,677.8 L194.5,676.2 L195.5,674.7 L196.5,673.7 L197.5,673.0 L198.5,672.9 L199.5,673.1 L200.5,673.6 L201.5,674.2 L202.5,675.0 L203.5,675.8 L204.5,676.7 L205.5,677.6 L206.5,678.4 L207.5,679.3 L208.5,680.3 L209.5,681.4 L210.5,682.5 L211.5,683.6 L212.5,684.7 L213.5,685.8 L214.5,686.8 L215.5,687.9 L216.5,689.0 L217.5,690.0 L218.5,691.1 L219.5,692.2 L220.5,693.3 L221.5,694.3 L222.5,695.3 L223.5,696.3 L224.5,697.3 L225.5,698.3 L226.5,699.2 L227.5,700.2 L228.5,701.1 L229.5,702.1 L230.5,703.0 L231.5,704.0 L232.5,704.9 L233.5,705.8 L234.5,706.8 L235.5,707.7 L236.5,708.6 L237.5,709.5 L238.5,710.5 L239.5,711.4 L240.5,712.3 L241.5,713.2 L242.5,714.0 L243.5,714.9 L244.5,715.8 L245.5,716.6 L246.5,717.5 L247.5,718.4 L248.5,719.2 L249.5,720.1 L250.5,721.1 L251.5,722.0 L252.5,723.0 L253.5,723.9 L254.5,725.0 L255.5,726.0 L256.5,727.2 L257.5,728.4 L258.5,729.7 L259.5,730.9 L260.5,732.1 L261.5,733.3 L262.5,734.5 L263.5,735.7 L264.5,736.8 L265.5,738.0 L266.5,739.3 L267.5,740.5 L268.5,741.7 L269.5,743.0 L270.5,744.3 L271.5,745.7 L272.5,747.1 L273.5,748.6 L274.5,750.1 L275.5,751.7 L276.5,753.4 L277.5,755.2 L278.5,757.2 L279.5,759.4 L280.5,761.8 L281.5,764.5 L282.5,767.3 L283.5,770.2 L284.5,773.4 L285.5,776.8 L286.5,780.4 L287.5,784.0 L288.5,787.9 L289.5,792.1 L290.5,797.0 L291.5,802.3 L292.5,807.2 L293.5,811.9 L294.5,815.8 L295.5,818.6 L296.5,816.7 L297.5,811.9 L298.5,801.6 L299.5,787.9 L300.5,773.0 L301.5,759.2 L302.5,749.9 L303.5,743.0 L304.5,737.2 L305.5,734.3 L306.5,733.1 L307.5,732.2 L308.5,731.8 L309.5,732.0 L310.5,732.6 L311.5,733.4 L312.5,734.5 L313.5,735.5 L314.5,736.7 L315.5,738.0 L316.5,739.6 L317.5,741.1 L318.5,742.6 L319.5,744.0 L320.5,745.3 L321.5,746.7 L322.5,747.9 L323.5,749.0 L324.5,749.9 L325.5,750.6 L326.5,751.2 L327.5,751.8 L328.5,752.5 L329.5,753.3 L330.5,754.4 L331.5,755.6 L332.5,757.1 L333.5,758.8 L334.5,760.5 L335.5,762.4 L336.5,764.3 L337.5,766.3 L338.5,768.5 L339.5,770.9 L340.5,773.4 L341.5,776.0 L342.5,778.7 L343.5,781.4 L344.5,784.3 L345.5,787.3 L346.5,790.4 L347.5,793.7 L348.5,797.3 L349.5,801.1 L350.5,804.9 L351.5,808.6 L352.5,812.3 L353.5,815.3 L354.5,817.8 L355.5,817.1 L356.5,813.7 L357.5,809.2 L358.5,802.5 L359.5,795.0 L360.5,786.5 L361.5,778.8 L362.5,772.4 L363.5,767.2 L364.5,763.4 L365.5,761.2 L366.5,759.4 L367.5,758.4 L368.5,757.7 L369.5,757.2 L370.5,756.8 L371.5,756.5 L372.5,756.3 L373.5,756.3 L374.5,756.5 L375.5,756.7 L376.5,757.0 L377.5,757.3 L378.5,757.6 L379.5,758.0 L380.5,758.3 L381.5,758.7 L382.5,759.2 L383.5,759.6 L384.5,760.1 L385.5,760.5 L386.5,761.0 L387.5,761.4 L388.5,761.9 L389.5,762.4 L390.5,762.9 L391.5,763.4 L392.5,763.9 L393.5,764.4 L394.5,765.0 L395.5,765.5 L396.5,766.1 L397.5,766.6 L398.5,767.2 L399.5,767.8 L400.5,768.3 L401.5,768.9 L402.5,769.5 L403.5,770.2 L404.5,770.8 L405.5,771.4 L406.5,772.1 L407.5,772.7 L408.5,773.4 L409.5,774.1 L410.5,775.0 L411.5,775.9 L412.5,776.8 L413.5,777.8 L414.5,778.9 L415.5,780.1 L416.5,781.4 L417.5,782.7 L418.5,784.0 L419.5,785.5 L420.5,787.2 L421.5,789.0 L422.5,790.9 L423.5,792.9 L424.5,795.1 L425.5,797.5 L426.5,800.1 L427.5,803.0 L428.5,806.0 L429.5,809.1 L430.5,812.3 L431.5,815.6 L432.5,819.2 L433.5,822.9 L434.5,827.0 L435.5,831.3 L436.5,836.1 L437.5,841.2 L438.5,846.6 L439.5,852.4 L440.5,858.8 L441.5,865.4 L442.5,872.2 L443.5,878.6 L444.5,884.8 L445.5,891.2 L446.5,898.1 L447.5,906.4 L448.5,916.7 L449.5,927.7 L450.5,937.5 L451.5,945.6 L452.5,953.2 L453.5,960.3 L454.5,966.8 L455.5,972.5 L456.5,977.2 L457.5,981.5 L458.5,985.7 L459.5,989.4 L460.5,992.2 L461.5,993.8 L462.5,993.6 L463.5,992.1 L464.5,989.6 L465.5,986.6 L466.5,983.4 L467.5,980.3 L468.5,976.6 L469.5,972.5 L470.5,968.0 L471.5,963.7 L472.5,959.6 L473.5,956.0 L474.5,952.6 L475.5,949.2 L476.5,946.0 L477.5,942.9 L478.5,939.9 L479.5,937.2 L480.5,934.7 L481.5,932.5 L482.5,930.4 L483.5,928.5 L484.5,926.6 L485.5,924.9 L486.5,923.2 L487.5,921.7 L488.5,920.2 L489.5,918.9 L490.5,917.6 L491.5,916.5 L492.5,915.4 L493.5,914.4 L494.5,913.4 L495.5,912.5 L496.5,911.6 L497.5,910.8 L498.5,910.1 L499.5,909.4 L500.5,908.9 L501.5,908.4 L502.5,908.0 L503.5,907.5 L504.5,907.2 L505.5,906.8 L506.5,906.5 L507.5,906.3 L508.5,906.2 L509.5,906.2 L510.5,906.3 L511.5,906.5 L512.5,906.8 L513.5,907.2 L514.5,907.6 L515.5,908.1 L516.5,908.5 L517.5,909.1 L518.5,909.6 L519.5,910.4 L520.5,911.3 L521.5,912.4 L522.5,913.6 L523.5,915.0 L524.5,916.5 L525.5,918.1 L526.5,919.7 L527.5,921.4 L528.5,923.0 L529.5,924.9 L530.5,927.0 L531.5,929.3 L532.5,931.7 L533.5,934.2 L534.5,936.8 L535.5,939.5 L536.5,942.1 L537.5,944.7 L538.5,947.2 L539.5,949.8 L540.5,952.5 L541.5,955.4 L542.5,958.2 L543.5,960.9 L544.5,963.4 L545.5,965.5 L546.5,967.3 L547.5,968.7 L548.5,970.2 L549.5,971.5 L550.5,972.7 L551.5,973.7 L552.5,974.4 L553.5,974.8 L554.5,974.7 L555.5,974.2 L556.5,973.2 L557.5,972.0 L558.5,970.6 L559.5,969.2 L560.5,967.8 L561.5,966.3 L562.5,964.5 L563.5,962.5 L564.5,960.4 L565.5,958.2 L566.5,956.0 L567.5,953.8 L568.5,951.7 L569.5,949.7 L570.5,947.9 L571.5,946.1 L572.5,944.3 L573.5,942.5 L574.5,940.7 L575.5,938.8 L576.5,936.7 L577.5,934.5 L578.5,932.1 L579.5,929.4 L580.5,926.1 L581.5,922.4 L582.5,918.3 L583.5,914.0 L584.5,909.6 L585.5,905.2 L586.5,900.9 L587.5,896.6 L588.5,892.2 L589.5,887.7 L590.5,883.2 L591.5,878.6 L592.5,874.1 L593.5,869.3 L594.5,864.2 L595.5,859.3 L596.5,854.7 L597.5,850.7 L598.5,847.3 L599.5,844.2 L600.5,841.4 L601.5,838.7 L602.5,836.2 L603.5,833.9 L604.5,831.7 L605.5,829.6 L606.5,827.6 L607.5,825.6 L608.5,823.7 L609.5,821.9 L610.5,820.3 L611.5,818.8 L612.5,817.6 L613.5,816.7 L614.5,815.9 L615.5,815.2 L616.5,814.4 L617.5,813.8 L618.5,813.2 L619.5,812.7 L620.5,812.3 L621.5,812.1 L622.5,812.0 L623.5,812.3 L624.5,813.4 L625.5,815.1 L626.5,817.2 L627.5,819.6 L628.5,822.1 L629.5,824.9 L630.5,829.1 L631.5,833.7 L632.5,838.1 L633.5,841.4 L634.5,844.6 L635.5,847.5 L636.5,849.4 L637.5,850.0 L638.5,850.3 L639.5,850.5 L640.5,850.6 L641.5,850.5 L642.5,849.9 L643.5,849.1 L644.5,848.4 L645.5,848.1 L646.5,848.4 L647.5,849.1 L648.5,850.2 L649.5,851.5 L650.5,852.9 L651.5,854.7 L652.5,857.7 L653.5,861.0 L654.5,863.8 L655.5,865.4 L656.5,866.8 L657.5,868.1 L658.5,869.2 L659.5,869.9 L660.5,870.2 L661.5,870.1 L662.5,869.8 L663.5,869.4 L664.5,868.9 L665.5,868.4 L666.5,867.9 L667.5,867.4 L668.5,866.9 L669.5,866.3 L670.5,865.6 L671.0,865.3" stroke="#000" stroke-width="3.1" stroke-dasharray="3.3 3.3"/>
</g>
<text x="78.8" y="1074.4" text-anchor="end" font-size="27.5">0</text>
<text x="78.8" y="1018.9" text-anchor="end" font-size="27.5">0.1</text>
<text x="78.8" y="963.4" text-anchor="end" font-size="27.5">0.2</text>
<text x="78.8" y="907.8" text-anchor="end" font-size="27.5">0.3</text>
<text x="78.8" y="852.3" text-anchor="end" font-size="27.5">0.4</text>
<text x="78.8" y="796.8" text-anchor="end" font-size="27.5">0.5</text>
<text x="78.8" y="741.2" text-anchor="end" font-size="27.5">0.6</text>
<text x="78.8" y="685.7" text-anchor="end" font-size="27.5">0.7</text>
<text x="78.8" y="630.2" text-anchor="end" font-size="27.5">0.8</text>
<text x="88.5" y="1099.0" text-anchor="middle" font-size="27.5">4</text>
<text x="171.7" y="1099.0" text-anchor="middle" font-size="27.5">6</text>
<text x="254.9" y="1099.0" text-anchor="middle" font-size="27.5">8</text>
<text x="338.1" y="1099.0" text-anchor="middle" font-size="27.5">10</text>
<text x="421.2" y="1099.0" text-anchor="middle" font-size="27.5">12</text>
<text x="504.4" y="1099.0" text-anchor="middle" font-size="27.5">14</text>
<text x="587.6" y="1099.0" text-anchor="middle" font-size="27.5">16</text>
<text x="670.8" y="1099.0" text-anchor="middle" font-size="27.5">18</text>
<text x="379.5" y="1135.6" text-anchor="middle" font-size="31.5" textLength="225.5" lengthAdjust="spacingAndGlyphs">Frequency (GHz)</text>
<text transform="translate(32.7,842.0) rotate(-90)" text-anchor="middle" font-size="31.5" textLength="171" lengthAdjust="spacingAndGlyphs">Transmission</text>
<path d="M247.4,660.0H302.2" stroke="#0808e8" stroke-width="3.4" fill="none"/>
<path d="M351.4,660.0H394" stroke="#dc0a10" stroke-width="3.4" stroke-dasharray="14.2 13.9" fill="none"/>
<path d="M455.2,660.0H508.7" stroke="#14e614" stroke-width="3.4" stroke-dasharray="14 3.6 6.6 3.6" fill="none"/>
<path d="M558.3,660.0H612" stroke="#000" stroke-width="3.2" stroke-dasharray="3.15 3.15" fill="none"/>
<text x="305.3" y="666.4" font-size="24" textLength="13.2" lengthAdjust="spacingAndGlyphs">T</text>
<text x="320.8" y="657.4" font-size="18.5">b</text>
<text x="320.40000000000003" y="678.4" font-size="19.5">yy</text>
<text x="409.6" y="666.4" font-size="24" textLength="13.2" lengthAdjust="spacingAndGlyphs">T</text>
<text x="425.1" y="657.4" font-size="18.5">b</text>
<text x="424.70000000000005" y="678.4" font-size="19.5">xy</text>
<text x="513.3" y="666.4" font-size="24" textLength="13.2" lengthAdjust="spacingAndGlyphs">T</text>
<text x="528.8" y="657.4" font-size="18.5">b</text>
<text x="528.4" y="678.4" font-size="19.5">yx</text>
<text x="616.0" y="666.4" font-size="24" textLength="13.2" lengthAdjust="spacingAndGlyphs">T</text>
<text x="631.5" y="657.4" font-size="18.5">b</text>
<text x="631.1" y="678.4" font-size="19.5">xx</text>
<ellipse cx="129.2" cy="805.5" rx="21.6" ry="16.0" fill="none" stroke="#000" stroke-width="3.6"/>
<ellipse cx="181.7" cy="772.7" rx="21.4" ry="16.2" fill="none" stroke="#000" stroke-width="3.6"/>
<ellipse cx="561.6" cy="742.0" rx="33.6" ry="16.5" fill="none" stroke="#000" stroke-width="3.6"/>
<ellipse cx="597.1" cy="855.2" rx="21.5" ry="16.2" fill="none" stroke="#000" stroke-width="3.6"/>
<path d="M143.8,819.3L204.4,879.2" stroke="#000" stroke-width="3.6" fill="none"/><path d="M210.5,885.2L199.4,881.3L204.4,879.2L206.5,874.2Z" fill="#000"/>
<path d="M197.2,785.1L232.7,819.6" stroke="#000" stroke-width="3.6" fill="none"/><path d="M238.9,825.6L227.8,821.8L232.7,819.6L234.8,814.6Z" fill="#000"/>
<path d="M527.7,737.2L502.3,728.2" stroke="#000" stroke-width="3.6" fill="none"/><path d="M494.2,725.3L505.9,724.1L502.3,728.2L502.5,733.6Z" fill="#000"/>
<path d="M575.5,849.5L554.4,831.8" stroke="#000" stroke-width="3.6" fill="none"/><path d="M547.8,826.3L559.1,829.3L554.4,831.8L552.7,836.9Z" fill="#000"/>
<text x="230.6" y="849.5" font-size="25.5" textLength="118" lengthAdjust="spacingAndGlyphs">6.227–6.297</text>
<text x="208.2" y="906.0" font-size="25.5" textLength="118.3" lengthAdjust="spacingAndGlyphs">5.013–5.066</text>
<text x="348.8" y="727.2" font-size="25.5" textLength="140.3" lengthAdjust="spacingAndGlyphs">14.988–15.634</text>
<text x="435.0" y="819.7" font-size="25.5" textLength="129.8" lengthAdjust="spacingAndGlyphs">16.18–16.285</text>
<text x="363.7" y="1186" text-anchor="middle" font-size="30">(b)</text>
</svg>
</body></html>
